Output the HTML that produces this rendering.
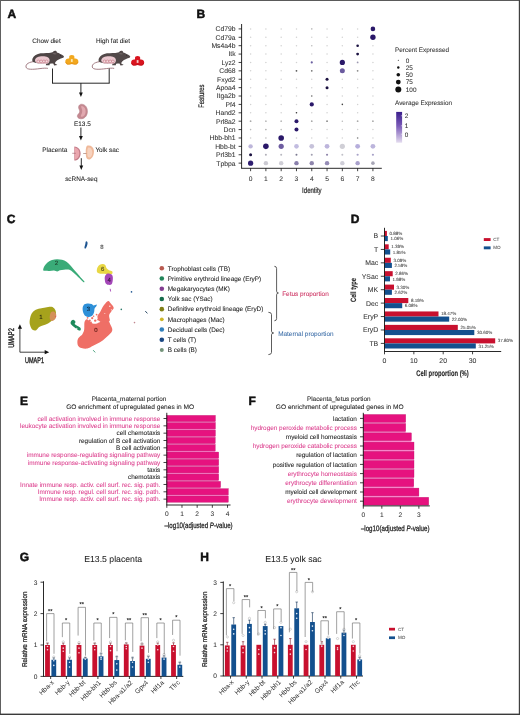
<!DOCTYPE html><html><head><meta charset="utf-8"><style>html,body{margin:0;padding:0;background:#fff;width:520px;height:715px;overflow:hidden}svg{display:block;will-change:transform}text{font-family:"Liberation Sans",sans-serif;text-rendering:geometricPrecision}</style></head><body>
<div id="w"><svg width="520" height="715" viewBox="0 0 520 715">
<rect x="0" y="0" width="520" height="715" fill="#fff"/>
<text x="7.40" y="18.00" font-size="12" text-anchor="start" fill="#111" font-weight="bold" stroke="#111" stroke-width="0.5" >A</text>
<text x="46.50" y="42.60" font-size="6.4" text-anchor="middle" fill="#222" stroke="#222" stroke-width="0.06" >Chow diet</text>
<text x="113.00" y="42.60" font-size="6.4" text-anchor="middle" fill="#222" stroke="#222" stroke-width="0.06" >High fat diet</text>
<g transform="translate(0.00,0)">
<path d="M34.5,61.5 C29,62 25.5,64 26,67 C26.5,70 33,69.5 40,68.6 C43,68.2 46,68 47.5,68.3" fill="none" stroke="#9a7078" stroke-width="0.9" stroke-linecap="round"/>
<path d="M32.2,60.1 C32.3,57.5 34.5,55 38,53.9 C41,53.1 46,53.2 49,53.1 C51,53 52.4,52.6 53.3,51.6 C53.8,50.7 55.3,50.3 56.2,51 C56.8,51.5 56.9,52.2 56.9,52.6 C59,53.2 61.8,54.6 63.4,55.8 C64.2,56.4 64.1,57.3 63.2,57.7 C61.5,58.3 60,58.8 58.8,59.4 C57.2,60.2 56,61 55.3,62.2 L54.9,63.6 C55.8,64.1 56.8,64.4 57.4,64.9 L54.2,65.4 L53.2,63.6 C52,63.6 50.8,63.7 49.8,63.8 L49.5,65.2 L45.8,65.2 L46.2,63.8 C43.5,63.7 40.5,63.5 38,63.2 C35.5,62.9 33.2,62.3 32.5,61.4 Z" fill="#4e4545"/>
<path d="M52.5,53.5 C54,52.8 55.8,53 57,54 C55.5,54.6 53.8,54.6 52.5,53.5 Z" fill="#6d6363"/>
<circle cx="60.5" cy="55.4" r="0.45" fill="#111"/>
<path d="M35.0,60.3 C35.2,57.6 38.5,56.3 42.6,56.3 C46.8,56.3 49.6,57.6 49.6,60.4 C49.6,62.8 47.8,63.9 45,64.0 L40,63.8 C37.2,63.5 35.0,62.6 35.0,60.3 Z" fill="#eac8cf"/>
<circle cx="38.3" cy="61.4" r="1.35" fill="#f4dade" stroke="#b8606e" stroke-width="0.5"/>
<circle cx="41.1" cy="61.4" r="1.35" fill="#f4dade" stroke="#b8606e" stroke-width="0.5"/>
<circle cx="43.9" cy="61.4" r="1.35" fill="#f4dade" stroke="#b8606e" stroke-width="0.5"/>
<circle cx="46.6" cy="61.4" r="1.35" fill="#f4dade" stroke="#b8606e" stroke-width="0.5"/>
</g>
<g transform="translate(66.30,0)">
<path d="M34.5,61.5 C29,62 25.5,64 26,67 C26.5,70 33,69.5 40,68.6 C43,68.2 46,68 47.5,68.3" fill="none" stroke="#9a7078" stroke-width="0.9" stroke-linecap="round"/>
<path d="M32.2,60.1 C32.3,57.5 34.5,55 38,53.9 C41,53.1 46,53.2 49,53.1 C51,53 52.4,52.6 53.3,51.6 C53.8,50.7 55.3,50.3 56.2,51 C56.8,51.5 56.9,52.2 56.9,52.6 C59,53.2 61.8,54.6 63.4,55.8 C64.2,56.4 64.1,57.3 63.2,57.7 C61.5,58.3 60,58.8 58.8,59.4 C57.2,60.2 56,61 55.3,62.2 L54.9,63.6 C55.8,64.1 56.8,64.4 57.4,64.9 L54.2,65.4 L53.2,63.6 C52,63.6 50.8,63.7 49.8,63.8 L49.5,65.2 L45.8,65.2 L46.2,63.8 C43.5,63.7 40.5,63.5 38,63.2 C35.5,62.9 33.2,62.3 32.5,61.4 Z" fill="#524949"/>
<path d="M52.5,53.5 C54,52.8 55.8,53 57,54 C55.5,54.6 53.8,54.6 52.5,53.5 Z" fill="#6d6363"/>
<circle cx="60.5" cy="55.4" r="0.45" fill="#111"/>
<path d="M35.0,60.3 C35.2,57.6 38.5,56.3 42.6,56.3 C46.8,56.3 49.6,57.6 49.6,60.4 C49.6,62.8 47.8,63.9 45,64.0 L40,63.8 C37.2,63.5 35.0,62.6 35.0,60.3 Z" fill="#eac8cf"/>
<circle cx="38.3" cy="61.4" r="1.35" fill="#f4dade" stroke="#b8606e" stroke-width="0.5"/>
<circle cx="41.1" cy="61.4" r="1.35" fill="#f4dade" stroke="#b8606e" stroke-width="0.5"/>
<circle cx="43.9" cy="61.4" r="1.35" fill="#f4dade" stroke="#b8606e" stroke-width="0.5"/>
<circle cx="46.6" cy="61.4" r="1.35" fill="#f4dade" stroke="#b8606e" stroke-width="0.5"/>
</g>
<g transform="translate(65.00,54.60)">
<path d="M0.3,6.9 C0.3,4.8 1.8,3.8 3.6,3.9 C4.2,3.9 4.4,3.4 4.2,2.6 C4.0,1.0 5.2,0.3 6.8,0.3 C8.4,0.3 9.6,1.0 9.4,2.6 C9.2,3.4 9.4,3.9 10.0,3.9 C11.8,3.8 13.4,4.8 13.4,6.9 C13.4,9.0 12.0,10.0 10.2,10.0 C8.8,10.0 7.6,9.5 6.8,9.5 C6.0,9.5 4.8,10.0 3.4,10.0 C1.6,10.0 0.3,9.0 0.3,6.9 Z" fill="#f2a81e"/>
<path d="M0.8,7.4 C1.2,9.0 2.2,9.6 3.4,9.6 C4.8,9.6 5.8,9.0 6.8,9.0 C7.8,9.0 8.8,9.6 10.2,9.6 C11.4,9.6 12.5,9.0 12.9,7.4" fill="none" stroke="#e08a12" stroke-width="0.7"/>
<rect x="5.9" y="4.5" width="1.8" height="2.8" fill="#fce9b4"/>
</g>
<g transform="translate(130.80,55.60)">
<path d="M0.3,6.9 C0.3,4.8 1.8,3.8 3.6,3.9 C4.2,3.9 4.4,3.4 4.2,2.6 C4.0,1.0 5.2,0.3 6.8,0.3 C8.4,0.3 9.6,1.0 9.4,2.6 C9.2,3.4 9.4,3.9 10.0,3.9 C11.8,3.8 13.4,4.8 13.4,6.9 C13.4,9.0 12.0,10.0 10.2,10.0 C8.8,10.0 7.6,9.5 6.8,9.5 C6.0,9.5 4.8,10.0 3.4,10.0 C1.6,10.0 0.3,9.0 0.3,6.9 Z" fill="#d9141f"/>
<path d="M0.8,7.4 C1.2,9.0 2.2,9.6 3.4,9.6 C4.8,9.6 5.8,9.0 6.8,9.0 C7.8,9.0 8.8,9.6 10.2,9.6 C11.4,9.6 12.5,9.0 12.9,7.4" fill="none" stroke="#b50c16" stroke-width="0.7"/>
<rect x="5.9" y="4.5" width="1.8" height="2.8" fill="#f9c9c9"/>
</g>
<line x1="52.50" y1="68.50" x2="52.50" y2="83.20" stroke="#111" stroke-width="0.9" />
<line x1="109.20" y1="68.50" x2="109.20" y2="83.20" stroke="#111" stroke-width="0.9" />
<line x1="52.05" y1="83.20" x2="109.65" y2="83.20" stroke="#111" stroke-width="0.9" />
<line x1="80.90" y1="83.20" x2="80.90" y2="93.50" stroke="#111" stroke-width="0.9" />
<path d="M79.00,92.40 L82.80,92.40 L80.90,97.00 Z" fill="#111"/>
<path d="M81.5,104.2 C85.5,104.3 87.8,108 87.4,112.2 C87,116.5 84,119 80.6,118.8 C78,118.6 76.9,116.8 77.5,115.2 C78.2,113.6 79.6,113.3 79.7,111.5 C79.8,109.8 78.4,109 78.6,107 C78.8,105.2 80,104.2 81.5,104.2 Z" fill="#c48890" stroke="#b07680" stroke-width="0.5"/>
<path d="M81.8,106 C84.5,106.5 85.8,109 85.6,112 C85.4,115 83.5,117 81.2,116.8 C80.4,116.7 80.8,115.5 81.6,114 C82.3,112.6 82.5,110.5 81.8,108.8 C81.2,107.4 80.8,106 81.8,106 Z" fill="#e2a9b0"/>
<text x="82.40" y="126.00" font-size="6.4" text-anchor="middle" fill="#222" stroke="#222" stroke-width="0.06" >E13.5</text>
<line x1="80.90" y1="127.50" x2="80.90" y2="137.10" stroke="#111" stroke-width="0.9" />
<path d="M79.00,136.00 L82.80,136.00 L80.90,140.60 Z" fill="#111"/>
<text x="54.80" y="151.70" font-size="6.4" text-anchor="middle" fill="#222" stroke="#222" stroke-width="0.06" >Placenta</text>
<path d="M74.3,146.4 C78.5,146.6 80.6,150 80.6,153.5 C80.6,157 78.5,160.4 74.3,160.6 Z" fill="#c27c88"/>
<path d="M74.6,147.6 C77.8,148 79.3,150.6 79.3,153.5 C79.3,156.4 77.8,159 74.6,159.4 Z" fill="#eaa6ae"/>
<line x1="72.20" y1="153.30" x2="75.80" y2="153.30" stroke="#9a5a66" stroke-width="0.6" />
<path d="M87.5,145.6 C91,145 93.6,147.2 93.9,150.5 C94.2,154 93,157.8 90.2,159.2 C88,160 86,158.5 85.9,155.5 C85.8,152.5 85.5,149 86.2,147.2 C86.5,146.3 87,145.7 87.5,145.6 Z" fill="#efb99a"/>
<path d="M88.3,147.5 C90.6,147.4 92.2,149.5 92.3,152 C92.4,154.8 91.2,157.3 89.5,157.6 C88,157.8 87.3,156 87.3,153.5 C87.3,151 87.2,148.5 88.3,147.5 Z" fill="#f7d2be"/>
<line x1="83.20" y1="153.50" x2="86.40" y2="153.50" stroke="#9a6a5a" stroke-width="0.6" />
<text x="95.40" y="151.70" font-size="6.4" text-anchor="start" fill="#222" stroke="#222" stroke-width="0.06" >Yolk sac</text>
<line x1="81.30" y1="158.20" x2="81.30" y2="166.50" stroke="#111" stroke-width="0.9" />
<path d="M79.40,165.40 L83.20,165.40 L81.30,170.00 Z" fill="#111"/>
<text x="81.30" y="181.40" font-size="6.4" text-anchor="middle" fill="#222" stroke="#222" stroke-width="0.06" >scRNA-seq</text>
<text x="196.60" y="17.80" font-size="12" text-anchor="start" fill="#111" font-weight="bold" stroke="#111" stroke-width="0.5" >B</text>
<line x1="241.60" y1="24.00" x2="241.60" y2="168.30" stroke="#111" stroke-width="0.9" />
<line x1="241.20" y1="168.30" x2="381.80" y2="168.30" stroke="#111" stroke-width="0.9" />
<line x1="238.60" y1="28.90" x2="241.60" y2="28.90" stroke="#111" stroke-width="0.8" />
<text x="235.60" y="31.30" font-size="6.8" text-anchor="end" fill="#333" stroke="#333" stroke-width="0.06" >Cd79b</text>
<line x1="238.60" y1="37.29" x2="241.60" y2="37.29" stroke="#111" stroke-width="0.8" />
<text x="235.60" y="39.69" font-size="6.8" text-anchor="end" fill="#333" stroke="#333" stroke-width="0.06" >Cd79a</text>
<line x1="238.60" y1="45.68" x2="241.60" y2="45.68" stroke="#111" stroke-width="0.8" />
<text x="235.60" y="48.08" font-size="6.8" text-anchor="end" fill="#333" stroke="#333" stroke-width="0.06" >Ms4a4b</text>
<line x1="238.60" y1="54.07" x2="241.60" y2="54.07" stroke="#111" stroke-width="0.8" />
<text x="235.60" y="56.47" font-size="6.8" text-anchor="end" fill="#333" stroke="#333" stroke-width="0.06" >Itk</text>
<line x1="238.60" y1="62.46" x2="241.60" y2="62.46" stroke="#111" stroke-width="0.8" />
<text x="235.60" y="64.86" font-size="6.8" text-anchor="end" fill="#333" stroke="#333" stroke-width="0.06" >Lyz2</text>
<line x1="238.60" y1="70.85" x2="241.60" y2="70.85" stroke="#111" stroke-width="0.8" />
<text x="235.60" y="73.25" font-size="6.8" text-anchor="end" fill="#333" stroke="#333" stroke-width="0.06" >Cd68</text>
<line x1="238.60" y1="79.24" x2="241.60" y2="79.24" stroke="#111" stroke-width="0.8" />
<text x="235.60" y="81.64" font-size="6.8" text-anchor="end" fill="#333" stroke="#333" stroke-width="0.06" >Fxyd2</text>
<line x1="238.60" y1="87.63" x2="241.60" y2="87.63" stroke="#111" stroke-width="0.8" />
<text x="235.60" y="90.03" font-size="6.8" text-anchor="end" fill="#333" stroke="#333" stroke-width="0.06" >Apoa4</text>
<line x1="238.60" y1="96.02" x2="241.60" y2="96.02" stroke="#111" stroke-width="0.8" />
<text x="235.60" y="98.42" font-size="6.8" text-anchor="end" fill="#333" stroke="#333" stroke-width="0.06" >Itga2b</text>
<line x1="238.60" y1="104.41" x2="241.60" y2="104.41" stroke="#111" stroke-width="0.8" />
<text x="235.60" y="106.81" font-size="6.8" text-anchor="end" fill="#333" stroke="#333" stroke-width="0.06" >Pf4</text>
<line x1="238.60" y1="112.80" x2="241.60" y2="112.80" stroke="#111" stroke-width="0.8" />
<text x="235.60" y="115.20" font-size="6.8" text-anchor="end" fill="#333" stroke="#333" stroke-width="0.06" >Hand2</text>
<line x1="238.60" y1="121.19" x2="241.60" y2="121.19" stroke="#111" stroke-width="0.8" />
<text x="235.60" y="123.59" font-size="6.8" text-anchor="end" fill="#333" stroke="#333" stroke-width="0.06" >Prl8a2</text>
<line x1="238.60" y1="129.58" x2="241.60" y2="129.58" stroke="#111" stroke-width="0.8" />
<text x="235.60" y="131.98" font-size="6.8" text-anchor="end" fill="#333" stroke="#333" stroke-width="0.06" >Dcn</text>
<line x1="238.60" y1="137.97" x2="241.60" y2="137.97" stroke="#111" stroke-width="0.8" />
<text x="235.60" y="140.37" font-size="6.8" text-anchor="end" fill="#333" stroke="#333" stroke-width="0.06" >Hbb-bh1</text>
<line x1="238.60" y1="146.36" x2="241.60" y2="146.36" stroke="#111" stroke-width="0.8" />
<text x="235.60" y="148.76" font-size="6.8" text-anchor="end" fill="#333" stroke="#333" stroke-width="0.06" >Hbb-bt</text>
<line x1="238.60" y1="154.75" x2="241.60" y2="154.75" stroke="#111" stroke-width="0.8" />
<text x="235.60" y="157.15" font-size="6.8" text-anchor="end" fill="#333" stroke="#333" stroke-width="0.06" >Prl3b1</text>
<line x1="238.60" y1="163.14" x2="241.60" y2="163.14" stroke="#111" stroke-width="0.8" />
<text x="235.60" y="165.54" font-size="6.8" text-anchor="end" fill="#333" stroke="#333" stroke-width="0.06" >Tpbpa</text>
<line x1="250.60" y1="168.30" x2="250.60" y2="171.20" stroke="#111" stroke-width="0.8" />
<text x="250.60" y="181.20" font-size="6.7" text-anchor="middle" fill="#333" stroke="#333" stroke-width="0.06" >0</text>
<line x1="265.89" y1="168.30" x2="265.89" y2="171.20" stroke="#111" stroke-width="0.8" />
<text x="265.89" y="181.20" font-size="6.7" text-anchor="middle" fill="#333" stroke="#333" stroke-width="0.06" >1</text>
<line x1="281.18" y1="168.30" x2="281.18" y2="171.20" stroke="#111" stroke-width="0.8" />
<text x="281.18" y="181.20" font-size="6.7" text-anchor="middle" fill="#333" stroke="#333" stroke-width="0.06" >2</text>
<line x1="296.47" y1="168.30" x2="296.47" y2="171.20" stroke="#111" stroke-width="0.8" />
<text x="296.47" y="181.20" font-size="6.7" text-anchor="middle" fill="#333" stroke="#333" stroke-width="0.06" >3</text>
<line x1="311.76" y1="168.30" x2="311.76" y2="171.20" stroke="#111" stroke-width="0.8" />
<text x="311.76" y="181.20" font-size="6.7" text-anchor="middle" fill="#333" stroke="#333" stroke-width="0.06" >4</text>
<line x1="327.05" y1="168.30" x2="327.05" y2="171.20" stroke="#111" stroke-width="0.8" />
<text x="327.05" y="181.20" font-size="6.7" text-anchor="middle" fill="#333" stroke="#333" stroke-width="0.06" >5</text>
<line x1="342.34" y1="168.30" x2="342.34" y2="171.20" stroke="#111" stroke-width="0.8" />
<text x="342.34" y="181.20" font-size="6.7" text-anchor="middle" fill="#333" stroke="#333" stroke-width="0.06" >6</text>
<line x1="357.63" y1="168.30" x2="357.63" y2="171.20" stroke="#111" stroke-width="0.8" />
<text x="357.63" y="181.20" font-size="6.7" text-anchor="middle" fill="#333" stroke="#333" stroke-width="0.06" >7</text>
<line x1="372.92" y1="168.30" x2="372.92" y2="171.20" stroke="#111" stroke-width="0.8" />
<text x="372.92" y="181.20" font-size="6.7" text-anchor="middle" fill="#333" stroke="#333" stroke-width="0.06" >8</text>
<text x="311.85" y="192.90" font-size="8.0" text-anchor="middle" fill="#222" stroke="#222" stroke-width="0.2" textLength="19.5" lengthAdjust="spacingAndGlyphs">Identity</text>
<text x="203.60" y="96.20" font-size="8.0" text-anchor="middle" fill="#222" stroke="#222" stroke-width="0.2" textLength="23" lengthAdjust="spacingAndGlyphs" transform="rotate(-90 203.60 96.20)">Features</text>
<circle cx="250.60" cy="28.90" r="0.75" fill="#d2d2d2"/>
<circle cx="265.89" cy="28.90" r="0.75" fill="#d2d2d2"/>
<circle cx="281.18" cy="28.90" r="0.75" fill="#d2d2d2"/>
<circle cx="296.47" cy="28.90" r="0.75" fill="#d2d2d2"/>
<circle cx="311.76" cy="28.90" r="0.80" fill="#bbb"/>
<circle cx="327.05" cy="28.90" r="0.75" fill="#d2d2d2"/>
<circle cx="342.34" cy="28.90" r="0.75" fill="#d2d2d2"/>
<circle cx="357.63" cy="28.90" r="0.75" fill="#d2d2d2"/>
<circle cx="372.92" cy="28.90" r="2.30" fill="#2a1869"/>
<circle cx="250.60" cy="37.29" r="0.75" fill="#d2d2d2"/>
<circle cx="265.89" cy="37.29" r="0.75" fill="#d2d2d2"/>
<circle cx="281.18" cy="37.29" r="0.75" fill="#d2d2d2"/>
<circle cx="296.47" cy="37.29" r="0.75" fill="#d2d2d2"/>
<circle cx="311.76" cy="37.29" r="0.75" fill="#d2d2d2"/>
<circle cx="327.05" cy="37.29" r="0.75" fill="#d2d2d2"/>
<circle cx="342.34" cy="37.29" r="0.75" fill="#d2d2d2"/>
<circle cx="357.63" cy="37.29" r="0.75" fill="#d2d2d2"/>
<circle cx="372.92" cy="37.29" r="2.70" fill="#2a1869"/>
<circle cx="250.60" cy="45.68" r="0.75" fill="#d2d2d2"/>
<circle cx="265.89" cy="45.68" r="0.75" fill="#d2d2d2"/>
<circle cx="281.18" cy="45.68" r="0.75" fill="#d2d2d2"/>
<circle cx="296.47" cy="45.68" r="0.75" fill="#d2d2d2"/>
<circle cx="311.76" cy="45.68" r="0.80" fill="#bbb"/>
<circle cx="327.05" cy="45.68" r="0.75" fill="#d2d2d2"/>
<circle cx="342.34" cy="45.68" r="0.75" fill="#d2d2d2"/>
<circle cx="357.63" cy="45.68" r="1.30" fill="#1b1140"/>
<circle cx="372.92" cy="45.68" r="0.75" fill="#d2d2d2"/>
<circle cx="250.60" cy="54.07" r="0.75" fill="#d2d2d2"/>
<circle cx="265.89" cy="54.07" r="0.75" fill="#d2d2d2"/>
<circle cx="281.18" cy="54.07" r="0.75" fill="#d2d2d2"/>
<circle cx="296.47" cy="54.07" r="0.75" fill="#d2d2d2"/>
<circle cx="311.76" cy="54.07" r="0.75" fill="#d2d2d2"/>
<circle cx="327.05" cy="54.07" r="0.75" fill="#d2d2d2"/>
<circle cx="342.34" cy="54.07" r="0.75" fill="#d2d2d2"/>
<circle cx="357.63" cy="54.07" r="1.40" fill="#1b1140"/>
<circle cx="372.92" cy="54.07" r="0.75" fill="#d2d2d2"/>
<circle cx="250.60" cy="62.46" r="0.75" fill="#d2d2d2"/>
<circle cx="265.89" cy="62.46" r="0.75" fill="#d2d2d2"/>
<circle cx="281.18" cy="62.46" r="0.75" fill="#d2d2d2"/>
<circle cx="296.47" cy="62.46" r="0.75" fill="#d2d2d2"/>
<circle cx="311.76" cy="62.46" r="1.10" fill="#6a5fa0"/>
<circle cx="327.05" cy="62.46" r="0.75" fill="#d2d2d2"/>
<circle cx="342.34" cy="62.46" r="2.60" fill="#2a1869"/>
<circle cx="357.63" cy="62.46" r="0.90" fill="#9c98b0"/>
<circle cx="372.92" cy="62.46" r="0.75" fill="#d2d2d2"/>
<circle cx="250.60" cy="70.85" r="0.75" fill="#d2d2d2"/>
<circle cx="265.89" cy="70.85" r="0.75" fill="#d2d2d2"/>
<circle cx="281.18" cy="70.85" r="0.75" fill="#d2d2d2"/>
<circle cx="296.47" cy="70.85" r="0.90" fill="#555"/>
<circle cx="311.76" cy="70.85" r="0.90" fill="#777"/>
<circle cx="327.05" cy="70.85" r="0.75" fill="#d2d2d2"/>
<circle cx="342.34" cy="70.85" r="2.50" fill="#6b5b9f"/>
<circle cx="357.63" cy="70.85" r="0.90" fill="#888"/>
<circle cx="372.92" cy="70.85" r="0.75" fill="#d2d2d2"/>
<circle cx="250.60" cy="79.24" r="0.75" fill="#d2d2d2"/>
<circle cx="265.89" cy="79.24" r="0.75" fill="#d2d2d2"/>
<circle cx="281.18" cy="79.24" r="0.75" fill="#d2d2d2"/>
<circle cx="296.47" cy="79.24" r="0.75" fill="#d2d2d2"/>
<circle cx="311.76" cy="79.24" r="0.75" fill="#d2d2d2"/>
<circle cx="327.05" cy="79.24" r="1.50" fill="#1b1140"/>
<circle cx="342.34" cy="79.24" r="0.75" fill="#d2d2d2"/>
<circle cx="357.63" cy="79.24" r="0.75" fill="#d2d2d2"/>
<circle cx="372.92" cy="79.24" r="0.75" fill="#d2d2d2"/>
<circle cx="250.60" cy="87.63" r="0.75" fill="#d2d2d2"/>
<circle cx="265.89" cy="87.63" r="0.75" fill="#d2d2d2"/>
<circle cx="281.18" cy="87.63" r="0.75" fill="#d2d2d2"/>
<circle cx="296.47" cy="87.63" r="0.75" fill="#d2d2d2"/>
<circle cx="311.76" cy="87.63" r="0.75" fill="#d2d2d2"/>
<circle cx="327.05" cy="87.63" r="1.50" fill="#1b1140"/>
<circle cx="342.34" cy="87.63" r="0.75" fill="#d2d2d2"/>
<circle cx="357.63" cy="87.63" r="0.75" fill="#d2d2d2"/>
<circle cx="372.92" cy="87.63" r="0.75" fill="#d2d2d2"/>
<circle cx="250.60" cy="96.02" r="0.75" fill="#d2d2d2"/>
<circle cx="265.89" cy="96.02" r="0.75" fill="#d2d2d2"/>
<circle cx="281.18" cy="96.02" r="0.75" fill="#d2d2d2"/>
<circle cx="296.47" cy="96.02" r="0.75" fill="#d2d2d2"/>
<circle cx="311.76" cy="96.02" r="0.80" fill="#666"/>
<circle cx="327.05" cy="96.02" r="0.75" fill="#d2d2d2"/>
<circle cx="342.34" cy="96.02" r="0.75" fill="#d2d2d2"/>
<circle cx="357.63" cy="96.02" r="0.75" fill="#d2d2d2"/>
<circle cx="372.92" cy="96.02" r="0.75" fill="#d2d2d2"/>
<circle cx="250.60" cy="104.41" r="0.75" fill="#d2d2d2"/>
<circle cx="265.89" cy="104.41" r="0.75" fill="#d2d2d2"/>
<circle cx="281.18" cy="104.41" r="0.75" fill="#d2d2d2"/>
<circle cx="296.47" cy="104.41" r="0.75" fill="#d2d2d2"/>
<circle cx="311.76" cy="104.41" r="2.10" fill="#2a1869"/>
<circle cx="327.05" cy="104.41" r="0.75" fill="#d2d2d2"/>
<circle cx="342.34" cy="104.41" r="0.80" fill="#444"/>
<circle cx="357.63" cy="104.41" r="0.75" fill="#d2d2d2"/>
<circle cx="372.92" cy="104.41" r="0.75" fill="#d2d2d2"/>
<circle cx="250.60" cy="112.80" r="0.75" fill="#d2d2d2"/>
<circle cx="265.89" cy="112.80" r="0.75" fill="#d2d2d2"/>
<circle cx="281.18" cy="112.80" r="0.75" fill="#d2d2d2"/>
<circle cx="296.47" cy="112.80" r="0.80" fill="#333"/>
<circle cx="311.76" cy="112.80" r="0.75" fill="#d2d2d2"/>
<circle cx="327.05" cy="112.80" r="0.75" fill="#d2d2d2"/>
<circle cx="342.34" cy="112.80" r="0.75" fill="#d2d2d2"/>
<circle cx="357.63" cy="112.80" r="0.75" fill="#d2d2d2"/>
<circle cx="372.92" cy="112.80" r="0.75" fill="#d2d2d2"/>
<circle cx="250.60" cy="121.19" r="0.90" fill="#aaa"/>
<circle cx="265.89" cy="121.19" r="0.90" fill="#bbb"/>
<circle cx="281.18" cy="121.19" r="0.90" fill="#bbb"/>
<circle cx="296.47" cy="121.19" r="2.00" fill="#2a1869"/>
<circle cx="311.76" cy="121.19" r="0.90" fill="#aaa"/>
<circle cx="327.05" cy="121.19" r="0.90" fill="#888"/>
<circle cx="342.34" cy="121.19" r="0.80" fill="#bbb"/>
<circle cx="357.63" cy="121.19" r="0.90" fill="#aaa"/>
<circle cx="372.92" cy="121.19" r="0.90" fill="#aaa"/>
<circle cx="250.60" cy="129.58" r="0.80" fill="#bbb"/>
<circle cx="265.89" cy="129.58" r="0.80" fill="#aaa"/>
<circle cx="281.18" cy="129.58" r="0.80" fill="#bbb"/>
<circle cx="296.47" cy="129.58" r="2.00" fill="#2a1869"/>
<circle cx="311.76" cy="129.58" r="0.75" fill="#d2d2d2"/>
<circle cx="327.05" cy="129.58" r="0.75" fill="#d2d2d2"/>
<circle cx="342.34" cy="129.58" r="0.75" fill="#d2d2d2"/>
<circle cx="357.63" cy="129.58" r="0.75" fill="#d2d2d2"/>
<circle cx="372.92" cy="129.58" r="0.75" fill="#d2d2d2"/>
<circle cx="250.60" cy="137.97" r="0.80" fill="#ccc"/>
<circle cx="265.89" cy="137.97" r="0.80" fill="#bbb"/>
<circle cx="281.18" cy="137.97" r="2.80" fill="#2a1869"/>
<circle cx="296.47" cy="137.97" r="0.80" fill="#ccc"/>
<circle cx="311.76" cy="137.97" r="0.75" fill="#d2d2d2"/>
<circle cx="327.05" cy="137.97" r="0.75" fill="#d2d2d2"/>
<circle cx="342.34" cy="137.97" r="0.75" fill="#d2d2d2"/>
<circle cx="357.63" cy="137.97" r="0.80" fill="#777"/>
<circle cx="372.92" cy="137.97" r="0.75" fill="#d2d2d2"/>
<circle cx="250.60" cy="146.36" r="2.20" fill="#bdb6da"/>
<circle cx="265.89" cy="146.36" r="2.80" fill="#2a1869"/>
<circle cx="281.18" cy="146.36" r="2.60" fill="#6e5da1"/>
<circle cx="296.47" cy="146.36" r="2.30" fill="#c2bce0"/>
<circle cx="311.76" cy="146.36" r="2.40" fill="#c6c2da"/>
<circle cx="327.05" cy="146.36" r="2.40" fill="#bdb5dc"/>
<circle cx="342.34" cy="146.36" r="2.60" fill="#d0cfd6"/>
<circle cx="357.63" cy="146.36" r="2.40" fill="#b6aedc"/>
<circle cx="372.92" cy="146.36" r="2.40" fill="#bcb5dc"/>
<circle cx="250.60" cy="154.75" r="1.50" fill="#1b1140"/>
<circle cx="265.89" cy="154.75" r="1.00" fill="#b0afb8"/>
<circle cx="281.18" cy="154.75" r="1.00" fill="#b8b8c0"/>
<circle cx="296.47" cy="154.75" r="1.00" fill="#7a7890"/>
<circle cx="311.76" cy="154.75" r="1.00" fill="#a09eb0"/>
<circle cx="327.05" cy="154.75" r="1.10" fill="#8e84aa"/>
<circle cx="342.34" cy="154.75" r="1.00" fill="#c0c0c8"/>
<circle cx="357.63" cy="154.75" r="1.10" fill="#a8a2c8"/>
<circle cx="372.92" cy="154.75" r="1.10" fill="#a8a2c8"/>
<circle cx="250.60" cy="163.14" r="2.60" fill="#2f1e70"/>
<circle cx="265.89" cy="163.14" r="2.20" fill="#cbcad2"/>
<circle cx="281.18" cy="163.14" r="2.20" fill="#cfced6"/>
<circle cx="296.47" cy="163.14" r="2.20" fill="#8a80ac"/>
<circle cx="311.76" cy="163.14" r="2.20" fill="#8f86ad"/>
<circle cx="327.05" cy="163.14" r="2.20" fill="#958cb6"/>
<circle cx="342.34" cy="163.14" r="2.20" fill="#cfced8"/>
<circle cx="357.63" cy="163.14" r="2.20" fill="#a9a1cc"/>
<circle cx="372.92" cy="163.14" r="1.80" fill="#a8a6b6"/>
<text x="395.00" y="52.00" font-size="6.4" text-anchor="start" fill="#333" stroke="#333" stroke-width="0.06" >Percent Expressed</text>
<circle cx="398.30" cy="60.20" r="0.50" fill="#111"/>
<text x="405.80" y="62.50" font-size="6.4" text-anchor="start" fill="#333" stroke="#333" stroke-width="0.06" >0</text>
<circle cx="398.30" cy="67.50" r="1.20" fill="#111"/>
<text x="405.80" y="69.80" font-size="6.4" text-anchor="start" fill="#333" stroke="#333" stroke-width="0.06" >25</text>
<circle cx="398.30" cy="74.80" r="1.80" fill="#111"/>
<text x="405.80" y="77.10" font-size="6.4" text-anchor="start" fill="#333" stroke="#333" stroke-width="0.06" >50</text>
<circle cx="398.30" cy="82.10" r="2.40" fill="#111"/>
<text x="405.80" y="84.40" font-size="6.4" text-anchor="start" fill="#333" stroke="#333" stroke-width="0.06" >75</text>
<circle cx="398.30" cy="89.40" r="3.00" fill="#111"/>
<text x="405.80" y="91.70" font-size="6.4" text-anchor="start" fill="#333" stroke="#333" stroke-width="0.06" >100</text>
<text x="395.00" y="105.20" font-size="6.4" text-anchor="start" fill="#333" stroke="#333" stroke-width="0.06" >Average Expression</text>
<defs><linearGradient id="cb" x1="0" y1="0" x2="0" y2="1"><stop offset="0" stop-color="#3b1e8c"/><stop offset="0.45" stop-color="#7a5ab8"/><stop offset="1" stop-color="#e4dcef"/></linearGradient></defs>
<rect x="396.2" y="111.9" width="5.9" height="30.8" fill="url(#cb)"/>
<line x1="400.90" y1="115.80" x2="402.10" y2="115.80" stroke="#fff" stroke-width="0.5" />
<text x="404.80" y="118.10" font-size="6.4" text-anchor="start" fill="#333" stroke="#333" stroke-width="0.06" >2</text>
<line x1="400.90" y1="125.80" x2="402.10" y2="125.80" stroke="#fff" stroke-width="0.5" />
<text x="404.80" y="128.10" font-size="6.4" text-anchor="start" fill="#333" stroke="#333" stroke-width="0.06" >1</text>
<line x1="400.90" y1="134.20" x2="402.10" y2="134.20" stroke="#fff" stroke-width="0.5" />
<text x="404.80" y="136.50" font-size="6.4" text-anchor="start" fill="#333" stroke="#333" stroke-width="0.06" >0</text>
<text x="6.80" y="222.80" font-size="12" text-anchor="start" fill="#111" font-weight="bold" stroke="#111" stroke-width="0.5" >C</text>
<path d="M43.20,270.20 C42.95,269.40 43.78,267.28 44.50,266.00 C45.22,264.72 46.25,263.50 47.50,262.50 C48.75,261.50 50.42,260.55 52.00,260.00 C53.58,259.45 55.33,259.23 57.00,259.20 C58.67,259.17 60.42,259.37 62.00,259.80 C63.58,260.23 65.17,260.93 66.50,261.80 C67.83,262.67 68.82,263.75 70.00,265.00 C71.18,266.25 72.40,267.93 73.60,269.30 C74.80,270.67 76.02,271.85 77.20,273.20 C78.38,274.55 79.50,276.03 80.70,277.40 C81.90,278.77 83.98,280.65 84.40,281.40 C84.82,282.15 83.97,282.37 83.20,281.90 C82.43,281.43 80.93,279.72 79.80,278.60 C78.67,277.48 77.53,276.27 76.40,275.20 C75.27,274.13 74.17,273.10 73.00,272.20 C71.83,271.30 70.90,270.22 69.40,269.80 C67.90,269.38 65.57,269.62 64.00,269.70 C62.43,269.78 61.13,270.02 60.00,270.30 C58.87,270.58 58.20,271.38 57.20,271.40 C56.20,271.42 55.28,270.48 54.00,270.40 C52.72,270.32 50.83,270.83 49.50,270.90 C48.17,270.97 47.05,270.92 46.00,270.80 C44.95,270.68 43.45,271.00 43.20,270.20 Z" fill="#3aab78" />
<text x="56.40" y="265.20" font-size="6.0" text-anchor="middle" fill="#1e4a32" stroke="#1e4a32" stroke-width="0.12" >2</text>
<path d="M29.60,321.60 C29.73,319.65 30.37,316.37 31.20,314.50 C32.03,312.63 33.13,311.38 34.60,310.40 C36.07,309.42 38.18,309.07 40.00,308.60 C41.82,308.13 43.58,307.90 45.50,307.60 C47.42,307.30 49.95,306.53 51.50,306.80 C53.05,307.07 54.05,308.13 54.80,309.20 C55.55,310.27 56.03,311.73 56.00,313.20 C55.97,314.67 55.35,316.70 54.60,318.00 C53.85,319.30 52.60,320.10 51.50,321.00 C50.40,321.90 49.33,322.70 48.00,323.40 C46.67,324.10 44.97,324.60 43.50,325.20 C42.03,325.80 40.42,326.17 39.20,327.00 C37.98,327.83 37.30,329.73 36.20,330.20 C35.10,330.67 33.57,330.47 32.60,329.80 C31.63,329.13 30.90,327.57 30.40,326.20 C29.90,324.83 29.47,323.55 29.60,321.60 Z" fill="#a6a21c" />
<path d="M50.60,313.00 C51.27,311.83 52.87,311.33 53.80,311.60 C54.73,311.87 55.93,313.40 56.20,314.60 C56.47,315.80 56.07,317.73 55.40,318.80 C54.73,319.87 53.13,321.03 52.20,321.00 C51.27,320.97 50.07,319.93 49.80,318.60 C49.53,317.27 49.93,314.17 50.60,313.00 Z" fill="#d4915a" />
<circle cx="55.60" cy="316.60" r="0.60" fill="#e05060"/>
<text x="40.80" y="318.50" font-size="6.0" text-anchor="middle" fill="#2a2a10" stroke="#2a2a10" stroke-width="0.12" >1</text>
<path d="M84.50,322.00 C84.93,320.27 86.05,319.43 86.80,319.20 C87.55,318.97 88.13,319.93 89.00,320.60 C89.87,321.27 90.83,322.67 92.00,323.20 C93.17,323.73 94.83,323.90 96.00,323.80 C97.17,323.70 98.08,323.03 99.00,322.60 C99.92,322.17 100.58,321.50 101.50,321.20 C102.42,320.90 103.32,320.80 104.50,320.80 C105.68,320.80 107.58,320.50 108.60,321.20 C109.62,321.90 109.98,323.63 110.60,325.00 C111.22,326.37 112.27,328.07 112.30,329.40 C112.33,330.73 111.88,331.62 110.80,333.00 C109.72,334.38 107.60,336.15 105.80,337.70 C104.00,339.25 102.12,340.95 100.00,342.30 C97.88,343.65 95.22,344.75 93.10,345.80 C90.98,346.85 89.23,348.22 87.30,348.60 C85.37,348.98 83.03,348.57 81.50,348.10 C79.97,347.63 78.78,346.95 78.10,345.80 C77.42,344.65 77.30,342.55 77.40,341.20 C77.50,339.85 77.87,338.87 78.70,337.70 C79.53,336.53 81.48,335.55 82.40,334.20 C83.32,332.85 83.85,331.63 84.20,329.60 C84.55,327.57 84.07,323.73 84.50,322.00 Z" fill="#ef6f66" />
<path d="M108.20,300.90 C109.33,300.67 109.88,302.45 110.80,303.60 C111.72,304.75 113.62,306.48 113.70,307.80 C113.78,309.12 112.07,310.23 111.30,311.50 C110.53,312.77 109.35,313.88 109.10,315.40 C108.85,316.92 110.15,319.43 109.80,320.60 C109.45,321.77 108.22,322.13 107.00,322.40 C105.78,322.67 103.80,322.43 102.50,322.20 C101.20,321.97 100.05,321.97 99.20,321.00 C98.35,320.03 97.32,317.77 97.40,316.40 C97.48,315.03 99.03,313.97 99.70,312.80 C100.37,311.63 100.68,310.70 101.40,309.40 C102.12,308.10 102.87,306.42 104.00,305.00 C105.13,303.58 107.07,301.13 108.20,300.90 Z" fill="#ef6f66" />
<circle cx="92.20" cy="318.20" r="1.10" fill="#ef6f66"/>
<circle cx="95.20" cy="320.60" r="1.20" fill="#ef6f66"/>
<circle cx="89.80" cy="320.50" r="1.00" fill="#ef6f66"/>
<circle cx="96.60" cy="314.60" r="0.90" fill="#ef6f66"/>
<circle cx="93.60" cy="316.20" r="0.80" fill="#ef6f66"/>
<circle cx="98.20" cy="319.40" r="1.00" fill="#ef6f66"/>
<circle cx="87.60" cy="317.80" r="0.90" fill="#ef6f66"/>
<circle cx="91.00" cy="322.50" r="0.90" fill="#ef6f66"/>
<circle cx="109.80" cy="306.20" r="0.80" fill="#fde4e0"/>
<circle cx="111.40" cy="309.80" r="0.60" fill="#fde4e0"/>
<circle cx="104.80" cy="313.50" r="0.50" fill="#fde4e0"/>
<path d="M82.70,307.60 C82.92,306.23 83.62,305.00 84.50,304.30 C85.38,303.60 86.83,303.45 88.00,303.40 C89.17,303.35 90.57,303.67 91.50,304.00 C92.43,304.33 92.75,305.33 93.60,305.40 C94.45,305.47 96.15,304.25 96.60,304.40 C97.05,304.55 96.63,305.63 96.30,306.30 C95.97,306.97 94.97,307.45 94.60,308.40 C94.23,309.35 94.47,310.80 94.10,312.00 C93.73,313.20 93.25,314.78 92.40,315.60 C91.55,316.42 90.15,316.82 89.00,316.90 C87.85,316.98 86.47,316.83 85.50,316.10 C84.53,315.37 83.67,313.92 83.20,312.50 C82.73,311.08 82.48,308.97 82.70,307.60 Z" fill="#2e90d8" />
<text x="88.40" y="311.00" font-size="6.0" text-anchor="middle" fill="#10283f" stroke="#10283f" stroke-width="0.12" >3</text>
<text x="95.80" y="331.80" font-size="6.0" text-anchor="middle" fill="#5a1a12" stroke="#5a1a12" stroke-width="0.12" >0</text>
<path d="M70.60,322.40 C70.70,321.77 71.10,320.82 71.60,320.40 C72.10,319.98 73.00,319.80 73.60,319.90 C74.20,320.00 74.92,320.52 75.20,321.00 C75.48,321.48 75.40,322.30 75.30,322.80 C75.20,323.30 74.38,323.57 74.60,324.00 C74.82,324.43 75.93,324.97 76.60,325.40 C77.27,325.83 77.92,326.10 78.60,326.60 C79.28,327.10 80.43,327.77 80.70,328.40 C80.97,329.03 80.65,330.15 80.20,330.40 C79.75,330.65 78.70,330.20 78.00,329.90 C77.30,329.60 76.67,329.08 76.00,328.60 C75.33,328.12 74.63,327.53 74.00,327.00 C73.37,326.47 72.70,325.87 72.20,325.40 C71.70,324.93 71.27,324.70 71.00,324.20 C70.73,323.70 70.50,323.03 70.60,322.40 Z" fill="#1d8a5c" />
<circle cx="76.80" cy="328.30" r="0.60" fill="#ffffff"/>
<line x1="93.20" y1="350.20" x2="95.20" y2="352.40" stroke="#1d8a5c" stroke-width="0.8" />
<path d="M96.80,270.80 C96.80,269.87 97.10,268.20 97.60,267.20 C98.10,266.20 98.93,265.33 99.80,264.80 C100.67,264.27 101.87,263.93 102.80,264.00 C103.73,264.07 104.77,264.50 105.40,265.20 C106.03,265.90 106.00,267.37 106.60,268.20 C107.20,269.03 108.08,269.70 109.00,270.20 C109.92,270.70 111.57,270.60 112.10,271.20 C112.63,271.80 112.82,273.28 112.20,273.80 C111.58,274.32 109.73,274.30 108.40,274.30 C107.07,274.30 105.57,273.88 104.20,273.80 C102.83,273.72 101.30,273.97 100.20,273.80 C99.10,273.63 98.17,273.30 97.60,272.80 C97.03,272.30 96.80,271.73 96.80,270.80 Z" fill="#e8d744" />
<text x="102.60" y="271.40" font-size="6.0" text-anchor="middle" fill="#4a4218" stroke="#4a4218" stroke-width="0.12" >6</text>
<path d="M104.90,276.60 C105.20,275.67 105.82,274.48 106.60,274.00 C107.38,273.52 108.63,273.47 109.60,273.70 C110.57,273.93 111.87,274.38 112.40,275.40 C112.93,276.42 112.93,278.32 112.80,279.80 C112.67,281.28 112.37,283.47 111.60,284.30 C110.83,285.13 109.20,284.98 108.20,284.80 C107.20,284.62 106.17,284.07 105.60,283.20 C105.03,282.33 104.92,280.70 104.80,279.60 C104.68,278.50 104.60,277.53 104.90,276.60 Z" fill="#a446b8" />
<text x="109.20" y="282.40" font-size="6.0" text-anchor="middle" fill="#301236" stroke="#301236" stroke-width="0.12" >4</text>
<line x1="110.20" y1="288.80" x2="110.60" y2="291.50" stroke="#a545b5" stroke-width="0.9" />
<path d="M86.4,241.2 C87.8,241.2 87.9,243.5 87.1,245.5 C86.5,247.2 85.6,249 84.8,248.6 C84,248.2 84.7,246 85.2,244.5 C85.6,243 85.4,241.2 86.4,241.2 Z" fill="#1e5591"/>
<text x="101.90" y="249.00" font-size="6.0" text-anchor="middle" fill="#444" stroke="#444" stroke-width="0.12" >8</text>
<circle cx="131.50" cy="291.90" r="0.80" fill="#1e5591"/>
<circle cx="121.30" cy="309.40" r="0.80" fill="#2a7a6a"/>
<circle cx="134.50" cy="322.60" r="0.80" fill="#c08890"/>
<line x1="145.30" y1="311.10" x2="147.40" y2="313.40" stroke="#2a4a66" stroke-width="1.0" />
<line x1="19.90" y1="352.20" x2="19.90" y2="328.00" stroke="#111" stroke-width="0.8" />
<path d="M17.8,328.8 L22.0,328.8 L19.9,324.3 Z" fill="#111"/>
<line x1="19.90" y1="352.20" x2="45.50" y2="352.20" stroke="#111" stroke-width="0.8" />
<path d="M44.7,350.1 L44.7,354.3 L49.2,352.2 Z" fill="#111"/>
<text x="14.40" y="338.00" font-size="8.2" text-anchor="middle" fill="#1a1a1a" stroke="#1a1a1a" stroke-width="0.35" textLength="19.7" lengthAdjust="spacingAndGlyphs" transform="rotate(-90 14.40 338.00)">UMAP2</text>
<text x="34.50" y="362.90" font-size="8.2" text-anchor="middle" fill="#1a1a1a" stroke="#1a1a1a" stroke-width="0.35" textLength="18.9" lengthAdjust="spacingAndGlyphs">UMAP1</text>
<circle cx="161.80" cy="268.30" r="2.30" fill="#b8594f"/>
<text x="167.80" y="270.60" font-size="6.4" text-anchor="start" fill="#222" stroke="#222" stroke-width="0.06" >Trophoblast cells (TB)</text>
<circle cx="161.80" cy="278.51" r="2.30" fill="#22855a"/>
<text x="167.80" y="280.81" font-size="6.4" text-anchor="start" fill="#222" stroke="#222" stroke-width="0.06" >Primitive erythroid lineage (EryP)</text>
<circle cx="161.80" cy="288.72" r="2.30" fill="#823c90"/>
<text x="167.80" y="291.02" font-size="6.4" text-anchor="start" fill="#222" stroke="#222" stroke-width="0.06" >Megakaryocytes (MK)</text>
<circle cx="161.80" cy="298.93" r="2.30" fill="#166c4b"/>
<text x="167.80" y="301.23" font-size="6.4" text-anchor="start" fill="#222" stroke="#222" stroke-width="0.06" >Yolk sac (YSac)</text>
<circle cx="161.80" cy="309.14" r="2.30" fill="#807f16"/>
<text x="167.80" y="311.44" font-size="6.4" text-anchor="start" fill="#222" stroke="#222" stroke-width="0.06" >Definitive erythroid lineage (EryD)</text>
<circle cx="161.80" cy="319.35" r="1.90" fill="#cdb628"/>
<text x="167.80" y="321.65" font-size="6.4" text-anchor="start" fill="#222" stroke="#222" stroke-width="0.06" >Macrophages (Mac)</text>
<circle cx="161.80" cy="329.56" r="2.30" fill="#317fba"/>
<text x="167.80" y="331.86" font-size="6.4" text-anchor="start" fill="#222" stroke="#222" stroke-width="0.06" >Decidual cells (Dec)</text>
<circle cx="161.80" cy="339.77" r="2.30" fill="#1a4782"/>
<text x="167.80" y="342.07" font-size="6.4" text-anchor="start" fill="#222" stroke="#222" stroke-width="0.06" >T cells (T)</text>
<circle cx="161.80" cy="349.98" r="2.00" fill="#74947a"/>
<text x="167.80" y="352.28" font-size="6.4" text-anchor="start" fill="#222" stroke="#222" stroke-width="0.06" >B cells (B)</text>
<path d="M274.4,266.3 Q276.6,266.3 276.6,268.5 L276.6,291.2 Q276.6,293.0 278.4,293.0 Q276.6,293.0 276.6,294.8 L276.6,318.6 Q276.6,320.8 274.4,320.8" fill="none" stroke="#333" stroke-width="0.8"/>
<path d="M268.4,312.3 Q271.5,312.3 271.5,314.5 L271.5,331.2 Q271.5,333.0 273.6,333.0 Q271.5,333.0 271.5,334.8 L271.5,352.4 Q271.5,354.6 268.4,354.6" fill="none" stroke="#333" stroke-width="0.8"/>
<text x="282.20" y="295.80" font-size="6.4" text-anchor="start" fill="#cc2f5f" stroke="#cc2f5f" stroke-width="0.06" >Fetus proportion</text>
<text x="278.20" y="335.80" font-size="6.4" text-anchor="start" fill="#3d6ea8" stroke="#3d6ea8" stroke-width="0.06" >Maternal proportion</text>
<text x="350.70" y="222.90" font-size="12" text-anchor="start" fill="#111" font-weight="bold" stroke="#111" stroke-width="0.5" >D</text>
<rect x="384.50" y="230.90" width="2.40" height="5.10" fill="#c8102e"/>
<rect x="384.50" y="236.00" width="3.30" height="5.10" fill="#13508e"/>
<line x1="380.80" y1="236.00" x2="384.50" y2="236.00" stroke="#111" stroke-width="0.8" />
<text x="378.20" y="238.40" font-size="6.9" text-anchor="end" fill="#333" stroke="#333" stroke-width="0.06" >B</text>
<text x="389.50" y="234.80" font-size="4.5" text-anchor="start" fill="#444" stroke="#444" stroke-width="0.06" >0.88%</text>
<text x="390.40" y="240.30" font-size="4.5" text-anchor="start" fill="#444" stroke="#444" stroke-width="0.06" >1.06%</text>
<rect x="384.50" y="244.33" width="4.20" height="5.10" fill="#c8102e"/>
<rect x="384.50" y="249.43" width="5.70" height="5.10" fill="#13508e"/>
<line x1="380.80" y1="249.43" x2="384.50" y2="249.43" stroke="#111" stroke-width="0.8" />
<text x="378.20" y="251.83" font-size="6.9" text-anchor="end" fill="#333" stroke="#333" stroke-width="0.06" >T</text>
<text x="391.30" y="248.23" font-size="4.5" text-anchor="start" fill="#444" stroke="#444" stroke-width="0.06" >1.39%</text>
<text x="392.80" y="253.73" font-size="4.5" text-anchor="start" fill="#444" stroke="#444" stroke-width="0.06" >1.85%</text>
<rect x="384.50" y="257.75" width="6.30" height="5.10" fill="#c8102e"/>
<rect x="384.50" y="262.85" width="7.40" height="5.10" fill="#13508e"/>
<line x1="380.80" y1="262.85" x2="384.50" y2="262.85" stroke="#111" stroke-width="0.8" />
<text x="378.20" y="265.25" font-size="6.9" text-anchor="end" fill="#333" stroke="#333" stroke-width="0.06" >Mac</text>
<text x="393.40" y="261.65" font-size="4.5" text-anchor="start" fill="#444" stroke="#444" stroke-width="0.06" >3.09%</text>
<text x="394.50" y="267.15" font-size="4.5" text-anchor="start" fill="#444" stroke="#444" stroke-width="0.06" >2.59%</text>
<rect x="384.50" y="271.17" width="8.20" height="5.10" fill="#c8102e"/>
<rect x="384.50" y="276.27" width="5.50" height="5.10" fill="#13508e"/>
<line x1="380.80" y1="276.27" x2="384.50" y2="276.27" stroke="#111" stroke-width="0.8" />
<text x="378.20" y="278.67" font-size="6.9" text-anchor="end" fill="#333" stroke="#333" stroke-width="0.06" >YSac</text>
<text x="395.30" y="275.07" font-size="4.5" text-anchor="start" fill="#444" stroke="#444" stroke-width="0.06" >2.86%</text>
<text x="392.60" y="280.57" font-size="4.5" text-anchor="start" fill="#444" stroke="#444" stroke-width="0.06" >1.98%</text>
<rect x="384.50" y="284.60" width="9.50" height="5.10" fill="#c8102e"/>
<rect x="384.50" y="289.70" width="7.40" height="5.10" fill="#13508e"/>
<line x1="380.80" y1="289.70" x2="384.50" y2="289.70" stroke="#111" stroke-width="0.8" />
<text x="378.20" y="292.10" font-size="6.9" text-anchor="end" fill="#333" stroke="#333" stroke-width="0.06" >MK</text>
<text x="396.60" y="288.50" font-size="4.5" text-anchor="start" fill="#444" stroke="#444" stroke-width="0.06" >3.30%</text>
<text x="394.50" y="294.00" font-size="4.5" text-anchor="start" fill="#444" stroke="#444" stroke-width="0.06" >2.62%</text>
<rect x="384.50" y="298.02" width="23.80" height="5.10" fill="#c8102e"/>
<rect x="384.50" y="303.12" width="17.70" height="5.10" fill="#13508e"/>
<line x1="380.80" y1="303.12" x2="384.50" y2="303.12" stroke="#111" stroke-width="0.8" />
<text x="378.20" y="305.52" font-size="6.9" text-anchor="end" fill="#333" stroke="#333" stroke-width="0.06" >Dec</text>
<text x="410.90" y="301.93" font-size="4.5" text-anchor="start" fill="#444" stroke="#444" stroke-width="0.06" >8.19%</text>
<text x="404.80" y="307.43" font-size="4.5" text-anchor="start" fill="#444" stroke="#444" stroke-width="0.06" >6.08%</text>
<rect x="384.50" y="311.45" width="54.00" height="5.10" fill="#c8102e"/>
<rect x="384.50" y="316.55" width="64.70" height="5.10" fill="#13508e"/>
<line x1="380.80" y1="316.55" x2="384.50" y2="316.55" stroke="#111" stroke-width="0.8" />
<text x="378.20" y="318.95" font-size="6.9" text-anchor="end" fill="#333" stroke="#333" stroke-width="0.06" >EryP</text>
<text x="441.10" y="315.35" font-size="4.5" text-anchor="start" fill="#444" stroke="#444" stroke-width="0.06" >18.47%</text>
<text x="451.80" y="320.85" font-size="4.5" text-anchor="start" fill="#444" stroke="#444" stroke-width="0.06" >22.00%</text>
<rect x="384.50" y="324.88" width="73.30" height="5.10" fill="#c8102e"/>
<rect x="384.50" y="329.98" width="89.80" height="5.10" fill="#13508e"/>
<line x1="380.80" y1="329.98" x2="384.50" y2="329.98" stroke="#111" stroke-width="0.8" />
<text x="378.20" y="332.38" font-size="6.9" text-anchor="end" fill="#333" stroke="#333" stroke-width="0.06" >EryD</text>
<text x="460.40" y="328.78" font-size="4.5" text-anchor="start" fill="#444" stroke="#444" stroke-width="0.06" >25.05%</text>
<text x="476.90" y="334.28" font-size="4.5" text-anchor="start" fill="#444" stroke="#444" stroke-width="0.06" >30.60%</text>
<rect x="384.50" y="338.30" width="110.70" height="5.10" fill="#c8102e"/>
<rect x="384.50" y="343.40" width="91.30" height="5.10" fill="#13508e"/>
<line x1="380.80" y1="343.40" x2="384.50" y2="343.40" stroke="#111" stroke-width="0.8" />
<text x="378.20" y="345.80" font-size="6.9" text-anchor="end" fill="#333" stroke="#333" stroke-width="0.06" >TB</text>
<text x="497.80" y="342.20" font-size="4.5" text-anchor="start" fill="#444" stroke="#444" stroke-width="0.06" >37.80%</text>
<text x="478.40" y="347.70" font-size="4.5" text-anchor="start" fill="#444" stroke="#444" stroke-width="0.06" >31.25%</text>
<line x1="384.50" y1="227.80" x2="384.50" y2="351.50" stroke="#111" stroke-width="0.9" />
<line x1="384.10" y1="351.50" x2="501.20" y2="351.50" stroke="#111" stroke-width="0.9" />
<line x1="384.50" y1="351.50" x2="384.50" y2="354.30" stroke="#111" stroke-width="0.8" />
<text x="384.50" y="363.00" font-size="6.9" text-anchor="middle" fill="#333" stroke="#333" stroke-width="0.06" >0</text>
<line x1="413.85" y1="351.50" x2="413.85" y2="354.30" stroke="#111" stroke-width="0.8" />
<text x="413.85" y="363.00" font-size="6.9" text-anchor="middle" fill="#333" stroke="#333" stroke-width="0.06" >10</text>
<line x1="443.20" y1="351.50" x2="443.20" y2="354.30" stroke="#111" stroke-width="0.8" />
<text x="443.20" y="363.00" font-size="6.9" text-anchor="middle" fill="#333" stroke="#333" stroke-width="0.06" >20</text>
<line x1="472.55" y1="351.50" x2="472.55" y2="354.30" stroke="#111" stroke-width="0.8" />
<text x="472.55" y="363.00" font-size="6.9" text-anchor="middle" fill="#333" stroke="#333" stroke-width="0.06" >30</text>
<text x="442.50" y="376.00" font-size="8.2" text-anchor="middle" fill="#222" font-weight="bold" stroke="#222" stroke-width="0.1" textLength="52.5" lengthAdjust="spacingAndGlyphs">Cell proportion (%)</text>
<text x="356.20" y="290.00" font-size="7.8" text-anchor="middle" fill="#222" font-weight="bold" stroke="#222" stroke-width="0.1" textLength="24" lengthAdjust="spacingAndGlyphs" transform="rotate(-90 356.20 290.00)">Cell type</text>
<rect x="483.80" y="238.10" width="6.80" height="2.90" fill="#c8102e"/>
<rect x="483.80" y="246.40" width="6.80" height="2.90" fill="#13508e"/>
<text x="493.20" y="241.20" font-size="4.6" text-anchor="start" fill="#555" stroke="#555" stroke-width="0.06" >CT</text>
<text x="493.20" y="249.40" font-size="4.6" text-anchor="start" fill="#555" stroke="#555" stroke-width="0.06" >MO</text>
<text x="19.90" y="404.90" font-size="12" text-anchor="start" fill="#111" font-weight="bold" stroke="#111" stroke-width="0.5" >E</text>
<text x="129.00" y="401.10" font-size="6.4" text-anchor="middle" fill="#222" stroke="#222" stroke-width="0.06" >Placenta_maternal portion</text>
<text x="130.20" y="408.90" font-size="6.6" text-anchor="middle" fill="#222" stroke="#222" stroke-width="0.06" >GO enrichment of upregulated genes in MO</text>
<rect x="166.80" y="421.60" width="48.60" height="1.13" fill="#fb90d2"/>
<rect x="166.80" y="428.93" width="48.60" height="1.13" fill="#fb90d2"/>
<rect x="166.80" y="436.26" width="48.40" height="1.13" fill="#fb90d2"/>
<rect x="166.80" y="443.59" width="48.40" height="1.13" fill="#fb90d2"/>
<rect x="166.80" y="450.92" width="48.40" height="1.13" fill="#fb90d2"/>
<rect x="166.80" y="458.25" width="51.90" height="1.13" fill="#fb90d2"/>
<rect x="166.80" y="465.58" width="51.90" height="1.13" fill="#fb90d2"/>
<rect x="166.80" y="472.91" width="51.90" height="1.13" fill="#fb90d2"/>
<rect x="166.80" y="480.24" width="51.90" height="1.13" fill="#fb90d2"/>
<rect x="166.80" y="487.57" width="53.80" height="1.13" fill="#fb90d2"/>
<rect x="166.80" y="494.90" width="61.50" height="1.13" fill="#fb90d2"/>
<rect x="166.80" y="415.40" width="48.60" height="6.20" fill="#e6127f" stroke="#bf0e6a" stroke-width="0.35"/>
<line x1="163.50" y1="418.50" x2="166.80" y2="418.50" stroke="#111" stroke-width="0.8" />
<text x="160.30" y="420.75" font-size="6.4" text-anchor="end" fill="#dc3f8e" stroke="#dc3f8e" stroke-width="0.06" >cell activation involved in immune response</text>
<rect x="166.80" y="422.73" width="48.60" height="6.20" fill="#e6127f" stroke="#bf0e6a" stroke-width="0.35"/>
<line x1="163.50" y1="425.83" x2="166.80" y2="425.83" stroke="#111" stroke-width="0.8" />
<text x="160.30" y="428.08" font-size="6.4" text-anchor="end" fill="#dc3f8e" stroke="#dc3f8e" stroke-width="0.06" >leukocyte activation involved in immune response</text>
<rect x="166.80" y="430.06" width="48.60" height="6.20" fill="#e6127f" stroke="#bf0e6a" stroke-width="0.35"/>
<line x1="163.50" y1="433.16" x2="166.80" y2="433.16" stroke="#111" stroke-width="0.8" />
<text x="160.30" y="435.41" font-size="6.4" text-anchor="end" fill="#222" stroke="#222" stroke-width="0.06" >cell chemotaxis</text>
<rect x="166.80" y="437.39" width="48.40" height="6.20" fill="#e6127f" stroke="#bf0e6a" stroke-width="0.35"/>
<line x1="163.50" y1="440.49" x2="166.80" y2="440.49" stroke="#111" stroke-width="0.8" />
<text x="160.30" y="442.74" font-size="6.4" text-anchor="end" fill="#222" stroke="#222" stroke-width="0.06" >regulation of B cell activation</text>
<rect x="166.80" y="444.72" width="48.40" height="6.20" fill="#e6127f" stroke="#bf0e6a" stroke-width="0.35"/>
<line x1="163.50" y1="447.82" x2="166.80" y2="447.82" stroke="#111" stroke-width="0.8" />
<text x="160.30" y="450.07" font-size="6.4" text-anchor="end" fill="#222" stroke="#222" stroke-width="0.06" >B cell activation</text>
<rect x="166.80" y="452.05" width="51.90" height="6.20" fill="#e6127f" stroke="#bf0e6a" stroke-width="0.35"/>
<line x1="163.50" y1="455.15" x2="166.80" y2="455.15" stroke="#111" stroke-width="0.8" />
<text x="160.30" y="457.40" font-size="6.4" text-anchor="end" fill="#dc3f8e" stroke="#dc3f8e" stroke-width="0.06" >immune response-regulating signaling pathway</text>
<rect x="166.80" y="459.38" width="51.90" height="6.20" fill="#e6127f" stroke="#bf0e6a" stroke-width="0.35"/>
<line x1="163.50" y1="462.48" x2="166.80" y2="462.48" stroke="#111" stroke-width="0.8" />
<text x="160.30" y="464.73" font-size="6.4" text-anchor="end" fill="#dc3f8e" stroke="#dc3f8e" stroke-width="0.06" >immune response-activating signaling pathway</text>
<rect x="166.80" y="466.71" width="51.90" height="6.20" fill="#e6127f" stroke="#bf0e6a" stroke-width="0.35"/>
<line x1="163.50" y1="469.81" x2="166.80" y2="469.81" stroke="#111" stroke-width="0.8" />
<text x="160.30" y="472.06" font-size="6.4" text-anchor="end" fill="#222" stroke="#222" stroke-width="0.06" >taxis</text>
<rect x="166.80" y="474.04" width="51.90" height="6.20" fill="#e6127f" stroke="#bf0e6a" stroke-width="0.35"/>
<line x1="163.50" y1="477.14" x2="166.80" y2="477.14" stroke="#111" stroke-width="0.8" />
<text x="160.30" y="479.39" font-size="6.4" text-anchor="end" fill="#222" stroke="#222" stroke-width="0.06" >chemotaxis</text>
<rect x="166.80" y="481.37" width="53.80" height="6.20" fill="#e6127f" stroke="#bf0e6a" stroke-width="0.35"/>
<line x1="163.50" y1="484.47" x2="166.80" y2="484.47" stroke="#111" stroke-width="0.8" />
<text x="160.30" y="486.72" font-size="6.4" text-anchor="end" fill="#dc3f8e" stroke="#dc3f8e" stroke-width="0.06" >Innate immune resp. activ. cell surf. rec. sig. path.</text>
<rect x="166.80" y="488.70" width="61.50" height="6.20" fill="#e6127f" stroke="#bf0e6a" stroke-width="0.35"/>
<line x1="163.50" y1="491.80" x2="166.80" y2="491.80" stroke="#111" stroke-width="0.8" />
<text x="160.30" y="494.05" font-size="6.4" text-anchor="end" fill="#dc3f8e" stroke="#dc3f8e" stroke-width="0.06" >Immune resp. regul. cell surf. rec. sig. path.</text>
<rect x="166.80" y="496.03" width="61.50" height="6.20" fill="#e6127f" stroke="#bf0e6a" stroke-width="0.35"/>
<line x1="163.50" y1="499.13" x2="166.80" y2="499.13" stroke="#111" stroke-width="0.8" />
<text x="160.30" y="501.38" font-size="6.4" text-anchor="end" fill="#dc3f8e" stroke="#dc3f8e" stroke-width="0.06" >Immune resp. activ. cell surf. rec. sig. path.</text>
<line x1="166.80" y1="412.80" x2="166.80" y2="505.00" stroke="#111" stroke-width="0.9" />
<line x1="166.40" y1="505.00" x2="230.50" y2="505.00" stroke="#111" stroke-width="0.9" />
<line x1="166.80" y1="505.00" x2="166.80" y2="507.80" stroke="#111" stroke-width="0.8" />
<text x="166.80" y="515.80" font-size="6.6" text-anchor="middle" fill="#333" stroke="#333" stroke-width="0.06" >0</text>
<line x1="181.98" y1="505.00" x2="181.98" y2="507.80" stroke="#111" stroke-width="0.8" />
<text x="181.98" y="515.80" font-size="6.6" text-anchor="middle" fill="#333" stroke="#333" stroke-width="0.06" >1</text>
<line x1="197.16" y1="505.00" x2="197.16" y2="507.80" stroke="#111" stroke-width="0.8" />
<text x="197.16" y="515.80" font-size="6.6" text-anchor="middle" fill="#333" stroke="#333" stroke-width="0.06" >2</text>
<line x1="212.34" y1="505.00" x2="212.34" y2="507.80" stroke="#111" stroke-width="0.8" />
<text x="212.34" y="515.80" font-size="6.6" text-anchor="middle" fill="#333" stroke="#333" stroke-width="0.06" >3</text>
<line x1="227.52" y1="505.00" x2="227.52" y2="507.80" stroke="#111" stroke-width="0.8" />
<text x="227.52" y="515.80" font-size="6.6" text-anchor="middle" fill="#333" stroke="#333" stroke-width="0.06" >4</text>
<text x="198.60" y="528.40" font-size="7.9" text-anchor="middle" fill="#1a1a1a" stroke="#1a1a1a" stroke-width="0.25" textLength="68.0" lengthAdjust="spacingAndGlyphs">–log10(adjusted <tspan font-style="italic">P</tspan>-value)</text>
<text x="248.60" y="405.40" font-size="12" text-anchor="start" fill="#111" font-weight="bold" stroke="#111" stroke-width="0.5" >F</text>
<text x="338.70" y="400.60" font-size="6.4" text-anchor="middle" fill="#222" stroke="#222" stroke-width="0.06" >Placenta_fetus portion</text>
<text x="339.80" y="408.90" font-size="6.6" text-anchor="middle" fill="#222" stroke="#222" stroke-width="0.06" >GO enrichment of upregulated genes in MO</text>
<rect x="363.30" y="422.30" width="42.40" height="1.40" fill="#fb90d2"/>
<rect x="363.30" y="431.50" width="42.40" height="1.40" fill="#fb90d2"/>
<rect x="363.30" y="440.70" width="48.10" height="1.40" fill="#fb90d2"/>
<rect x="363.30" y="449.90" width="50.70" height="1.40" fill="#fb90d2"/>
<rect x="363.30" y="459.10" width="50.70" height="1.40" fill="#fb90d2"/>
<rect x="363.30" y="468.30" width="50.70" height="1.40" fill="#fb90d2"/>
<rect x="363.30" y="477.50" width="50.50" height="1.40" fill="#fb90d2"/>
<rect x="363.30" y="486.70" width="50.50" height="1.40" fill="#fb90d2"/>
<rect x="363.30" y="495.90" width="55.60" height="1.40" fill="#fb90d2"/>
<rect x="363.30" y="414.50" width="42.40" height="7.80" fill="#e6127f" stroke="#bf0e6a" stroke-width="0.35"/>
<line x1="360.00" y1="418.40" x2="363.30" y2="418.40" stroke="#111" stroke-width="0.8" />
<text x="356.90" y="420.65" font-size="6.4" text-anchor="end" fill="#222" stroke="#222" stroke-width="0.06" >lactation</text>
<rect x="363.30" y="423.70" width="42.40" height="7.80" fill="#e6127f" stroke="#bf0e6a" stroke-width="0.35"/>
<line x1="360.00" y1="427.60" x2="363.30" y2="427.60" stroke="#111" stroke-width="0.8" />
<text x="356.90" y="429.85" font-size="6.4" text-anchor="end" fill="#dc3f8e" stroke="#dc3f8e" stroke-width="0.06" >hydrogen peroxide metabolic process</text>
<rect x="363.30" y="432.90" width="48.10" height="7.80" fill="#e6127f" stroke="#bf0e6a" stroke-width="0.35"/>
<line x1="360.00" y1="436.80" x2="363.30" y2="436.80" stroke="#111" stroke-width="0.8" />
<text x="356.90" y="439.05" font-size="6.4" text-anchor="end" fill="#222" stroke="#222" stroke-width="0.06" >myeloid cell homeostasis</text>
<rect x="363.30" y="442.10" width="50.70" height="7.80" fill="#e6127f" stroke="#bf0e6a" stroke-width="0.35"/>
<line x1="360.00" y1="446.00" x2="363.30" y2="446.00" stroke="#111" stroke-width="0.8" />
<text x="356.90" y="448.25" font-size="6.4" text-anchor="end" fill="#dc3f8e" stroke="#dc3f8e" stroke-width="0.06" >hydrogen peroxide catabolic process</text>
<rect x="363.30" y="451.30" width="50.70" height="7.80" fill="#e6127f" stroke="#bf0e6a" stroke-width="0.35"/>
<line x1="360.00" y1="455.20" x2="363.30" y2="455.20" stroke="#111" stroke-width="0.8" />
<text x="356.90" y="457.45" font-size="6.4" text-anchor="end" fill="#222" stroke="#222" stroke-width="0.06" >regulation of lactation</text>
<rect x="363.30" y="460.50" width="50.70" height="7.80" fill="#e6127f" stroke="#bf0e6a" stroke-width="0.35"/>
<line x1="360.00" y1="464.40" x2="363.30" y2="464.40" stroke="#111" stroke-width="0.8" />
<text x="356.90" y="466.65" font-size="6.4" text-anchor="end" fill="#222" stroke="#222" stroke-width="0.06" >positive regulation of lactation</text>
<rect x="363.30" y="469.70" width="50.70" height="7.80" fill="#e6127f" stroke="#bf0e6a" stroke-width="0.35"/>
<line x1="360.00" y1="473.60" x2="363.30" y2="473.60" stroke="#111" stroke-width="0.8" />
<text x="356.90" y="475.85" font-size="6.4" text-anchor="end" fill="#dc3f8e" stroke="#dc3f8e" stroke-width="0.06" >erythrocyte homeostasis</text>
<rect x="363.30" y="478.90" width="50.50" height="7.80" fill="#e6127f" stroke="#bf0e6a" stroke-width="0.35"/>
<line x1="360.00" y1="482.80" x2="363.30" y2="482.80" stroke="#111" stroke-width="0.8" />
<text x="356.90" y="485.05" font-size="6.4" text-anchor="end" fill="#dc3f8e" stroke="#dc3f8e" stroke-width="0.06" >erythrocyte differentiation</text>
<rect x="363.30" y="488.10" width="55.60" height="7.80" fill="#e6127f" stroke="#bf0e6a" stroke-width="0.35"/>
<line x1="360.00" y1="492.00" x2="363.30" y2="492.00" stroke="#111" stroke-width="0.8" />
<text x="356.90" y="494.25" font-size="6.4" text-anchor="end" fill="#222" stroke="#222" stroke-width="0.06" >myeloid cell development</text>
<rect x="363.30" y="497.30" width="65.40" height="7.80" fill="#e6127f" stroke="#bf0e6a" stroke-width="0.35"/>
<line x1="360.00" y1="501.20" x2="363.30" y2="501.20" stroke="#111" stroke-width="0.8" />
<text x="356.90" y="503.45" font-size="6.4" text-anchor="end" fill="#dc3f8e" stroke="#dc3f8e" stroke-width="0.06" >erythrocyte development</text>
<line x1="363.30" y1="412.80" x2="363.30" y2="505.90" stroke="#111" stroke-width="0.9" />
<line x1="362.90" y1="505.90" x2="429.80" y2="505.90" stroke="#111" stroke-width="0.9" />
<line x1="363.30" y1="505.90" x2="363.30" y2="508.70" stroke="#111" stroke-width="0.8" />
<text x="363.30" y="516.70" font-size="6.6" text-anchor="middle" fill="#333" stroke="#333" stroke-width="0.06" >0</text>
<line x1="381.83" y1="505.90" x2="381.83" y2="508.70" stroke="#111" stroke-width="0.8" />
<text x="381.83" y="516.70" font-size="6.6" text-anchor="middle" fill="#333" stroke="#333" stroke-width="0.06" >1</text>
<line x1="400.36" y1="505.90" x2="400.36" y2="508.70" stroke="#111" stroke-width="0.8" />
<text x="400.36" y="516.70" font-size="6.6" text-anchor="middle" fill="#333" stroke="#333" stroke-width="0.06" >2</text>
<line x1="418.89" y1="505.90" x2="418.89" y2="508.70" stroke="#111" stroke-width="0.8" />
<text x="418.89" y="516.70" font-size="6.6" text-anchor="middle" fill="#333" stroke="#333" stroke-width="0.06" >3</text>
<text x="395.20" y="530.50" font-size="7.9" text-anchor="middle" fill="#1a1a1a" stroke="#1a1a1a" stroke-width="0.25" textLength="68.6" lengthAdjust="spacingAndGlyphs">–log10(adjusted <tspan font-style="italic">P</tspan>-value)</text>
<text x="19.70" y="561.30" font-size="12" text-anchor="start" fill="#111" font-weight="bold" stroke="#111" stroke-width="0.5" >G</text>
<text x="84.20" y="561.60" font-size="8.7" text-anchor="start" fill="#222" stroke="#222" stroke-width="0.06" >E13.5 placenta</text>
<line x1="43.50" y1="581.26" x2="43.50" y2="676.40" stroke="#111" stroke-width="0.9" />
<line x1="43.10" y1="676.40" x2="183.30" y2="676.40" stroke="#111" stroke-width="0.9" />
<line x1="40.50" y1="676.40" x2="43.50" y2="676.40" stroke="#111" stroke-width="0.8" />
<text x="35.60" y="678.70" font-size="6.6" text-anchor="middle" fill="#333" stroke="#333" stroke-width="0.06" >0</text>
<line x1="40.50" y1="645.00" x2="43.50" y2="645.00" stroke="#111" stroke-width="0.8" />
<text x="35.60" y="647.30" font-size="6.6" text-anchor="middle" fill="#333" stroke="#333" stroke-width="0.06" >1</text>
<line x1="40.50" y1="613.60" x2="43.50" y2="613.60" stroke="#111" stroke-width="0.8" />
<text x="35.60" y="615.90" font-size="6.6" text-anchor="middle" fill="#333" stroke="#333" stroke-width="0.06" >2</text>
<line x1="40.50" y1="582.20" x2="43.50" y2="582.20" stroke="#111" stroke-width="0.8" />
<text x="35.60" y="584.50" font-size="6.6" text-anchor="middle" fill="#333" stroke="#333" stroke-width="0.06" >3</text>
<text x="26.90" y="629.30" font-size="7.0" text-anchor="middle" fill="#1a1a1a" stroke="#1a1a1a" stroke-width="0.25" textLength="75.5" lengthAdjust="spacingAndGlyphs" transform="rotate(-90 26.90 629.30)">Relative mRNA expression</text>
<rect x="45.10" y="645.00" width="4.80" height="31.40" fill="#c8102e"/>
<rect x="51.40" y="659.76" width="4.80" height="16.64" fill="#13508e"/>
<line x1="47.50" y1="645.00" x2="47.50" y2="643.12" stroke="#7a1020" stroke-width="0.6" />
<line x1="46.30" y1="643.12" x2="48.70" y2="643.12" stroke="#7a1020" stroke-width="0.6" />
<line x1="53.80" y1="659.76" x2="53.80" y2="657.87" stroke="#0a2a50" stroke-width="0.6" />
<line x1="52.60" y1="657.87" x2="55.00" y2="657.87" stroke="#0a2a50" stroke-width="0.6" />
<circle cx="47.50" cy="646.57" r="0.80" fill="#f4d8dc"/>
<circle cx="47.50" cy="649.71" r="0.80" fill="#f4d8dc"/>
<circle cx="47.50" cy="643.43" r="1.10" fill="none" stroke="#b4b4b4" stroke-width="0.55"/>
<circle cx="53.80" cy="660.70" r="0.80" fill="#e6eef8"/>
<circle cx="53.80" cy="665.41" r="0.80" fill="#e6eef8"/>
<circle cx="53.80" cy="656.93" r="1.10" fill="none" stroke="#b4b4b4" stroke-width="0.55"/>
<path d="M46.60,641.23 L46.60,613.60 L54.00,613.60 L54.00,653.79" fill="none" stroke="#6e6e6e" stroke-width="0.65"/>
<text x="50.30" y="612.70" font-size="5.6" text-anchor="middle" fill="#111" stroke="#111" stroke-width="0.15" >**</text>
<line x1="50.65" y1="676.40" x2="50.65" y2="679.00" stroke="#111" stroke-width="0.8" />
<text x="54.25" y="683.00" font-size="6.7" text-anchor="end" fill="#333" transform="rotate(-45 54.25 683.00)">Hba-x</text>
<rect x="60.85" y="645.00" width="4.80" height="31.40" fill="#c8102e"/>
<rect x="67.15" y="659.76" width="4.80" height="16.64" fill="#13508e"/>
<line x1="63.25" y1="645.00" x2="63.25" y2="643.12" stroke="#7a1020" stroke-width="0.6" />
<line x1="62.05" y1="643.12" x2="64.45" y2="643.12" stroke="#7a1020" stroke-width="0.6" />
<line x1="69.55" y1="659.76" x2="69.55" y2="657.87" stroke="#0a2a50" stroke-width="0.6" />
<line x1="68.35" y1="657.87" x2="70.75" y2="657.87" stroke="#0a2a50" stroke-width="0.6" />
<circle cx="63.25" cy="648.14" r="0.80" fill="#f4d8dc"/>
<circle cx="63.25" cy="651.28" r="0.80" fill="#f4d8dc"/>
<circle cx="63.25" cy="641.86" r="1.10" fill="none" stroke="#b4b4b4" stroke-width="0.55"/>
<circle cx="69.55" cy="662.27" r="0.80" fill="#e6eef8"/>
<circle cx="69.55" cy="666.98" r="0.80" fill="#e6eef8"/>
<circle cx="69.55" cy="656.93" r="1.10" fill="none" stroke="#b4b4b4" stroke-width="0.55"/>
<path d="M62.35,637.15 L62.35,623.02 L69.75,623.02 L69.75,653.79" fill="none" stroke="#6e6e6e" stroke-width="0.65"/>
<text x="66.05" y="622.12" font-size="5.6" text-anchor="middle" fill="#111" stroke="#111" stroke-width="0.15" >*</text>
<line x1="66.40" y1="676.40" x2="66.40" y2="679.00" stroke="#111" stroke-width="0.8" />
<text x="70.00" y="683.00" font-size="6.7" text-anchor="end" fill="#333" transform="rotate(-45 70.00 683.00)">Hbb-y</text>
<rect x="76.60" y="645.00" width="4.80" height="31.40" fill="#c8102e"/>
<rect x="82.90" y="658.50" width="4.80" height="17.90" fill="#13508e"/>
<line x1="79.00" y1="645.00" x2="79.00" y2="643.43" stroke="#7a1020" stroke-width="0.6" />
<line x1="77.80" y1="643.43" x2="80.20" y2="643.43" stroke="#7a1020" stroke-width="0.6" />
<line x1="85.30" y1="658.50" x2="85.30" y2="657.56" stroke="#0a2a50" stroke-width="0.6" />
<line x1="84.10" y1="657.56" x2="86.50" y2="657.56" stroke="#0a2a50" stroke-width="0.6" />
<circle cx="79.00" cy="648.14" r="0.80" fill="#f4d8dc"/>
<circle cx="79.00" cy="652.85" r="0.80" fill="#f4d8dc"/>
<circle cx="79.00" cy="642.49" r="1.10" fill="none" stroke="#b4b4b4" stroke-width="0.55"/>
<circle cx="85.30" cy="659.13" r="0.80" fill="#e6eef8"/>
<circle cx="85.30" cy="657.56" r="1.10" fill="none" stroke="#b4b4b4" stroke-width="0.55"/>
<path d="M78.10,635.58 L78.10,607.32 L85.50,607.32 L85.50,655.68" fill="none" stroke="#6e6e6e" stroke-width="0.65"/>
<text x="81.80" y="606.42" font-size="5.6" text-anchor="middle" fill="#111" stroke="#111" stroke-width="0.15" >**</text>
<line x1="82.15" y1="676.40" x2="82.15" y2="679.00" stroke="#111" stroke-width="0.8" />
<text x="85.75" y="683.00" font-size="6.7" text-anchor="end" fill="#333" transform="rotate(-45 85.75 683.00)">Hbb-bt</text>
<rect x="92.35" y="645.00" width="4.80" height="31.40" fill="#c8102e"/>
<rect x="98.65" y="656.30" width="4.80" height="20.10" fill="#13508e"/>
<line x1="94.75" y1="645.00" x2="94.75" y2="643.12" stroke="#7a1020" stroke-width="0.6" />
<line x1="93.55" y1="643.12" x2="95.95" y2="643.12" stroke="#7a1020" stroke-width="0.6" />
<line x1="101.05" y1="656.30" x2="101.05" y2="653.16" stroke="#0a2a50" stroke-width="0.6" />
<line x1="99.85" y1="653.16" x2="102.25" y2="653.16" stroke="#0a2a50" stroke-width="0.6" />
<circle cx="94.75" cy="646.57" r="0.80" fill="#f4d8dc"/>
<circle cx="94.75" cy="649.71" r="0.80" fill="#f4d8dc"/>
<circle cx="94.75" cy="643.43" r="1.10" fill="none" stroke="#b4b4b4" stroke-width="0.55"/>
<circle cx="101.05" cy="657.56" r="0.80" fill="#e6eef8"/>
<circle cx="101.05" cy="659.13" r="0.80" fill="#e6eef8"/>
<circle cx="101.05" cy="653.79" r="1.10" fill="none" stroke="#b4b4b4" stroke-width="0.55"/>
<path d="M93.85,640.60 L93.85,623.02 L101.25,623.02 L101.25,651.91" fill="none" stroke="#6e6e6e" stroke-width="0.65"/>
<text x="97.55" y="622.12" font-size="5.6" text-anchor="middle" fill="#111" stroke="#111" stroke-width="0.15" >*</text>
<line x1="97.90" y1="676.40" x2="97.90" y2="679.00" stroke="#111" stroke-width="0.8" />
<text x="101.50" y="683.00" font-size="6.7" text-anchor="end" fill="#333" transform="rotate(-45 101.50 683.00)">Hbb-bh1</text>
<rect x="108.10" y="645.00" width="4.80" height="31.40" fill="#c8102e"/>
<rect x="114.40" y="660.07" width="4.80" height="16.33" fill="#13508e"/>
<line x1="110.50" y1="645.00" x2="110.50" y2="643.12" stroke="#7a1020" stroke-width="0.6" />
<line x1="109.30" y1="643.12" x2="111.70" y2="643.12" stroke="#7a1020" stroke-width="0.6" />
<line x1="116.80" y1="660.07" x2="116.80" y2="656.30" stroke="#0a2a50" stroke-width="0.6" />
<line x1="115.60" y1="656.30" x2="118.00" y2="656.30" stroke="#0a2a50" stroke-width="0.6" />
<circle cx="110.50" cy="646.57" r="0.80" fill="#f4d8dc"/>
<circle cx="110.50" cy="650.65" r="0.80" fill="#f4d8dc"/>
<circle cx="110.50" cy="641.86" r="1.10" fill="none" stroke="#b4b4b4" stroke-width="0.55"/>
<circle cx="116.80" cy="663.84" r="0.80" fill="#e6eef8"/>
<circle cx="116.80" cy="670.12" r="0.80" fill="#e6eef8"/>
<circle cx="116.80" cy="656.93" r="1.10" fill="none" stroke="#b4b4b4" stroke-width="0.55"/>
<path d="M109.60,638.09 L109.60,617.37 L117.00,617.37 L117.00,651.28" fill="none" stroke="#6e6e6e" stroke-width="0.65"/>
<text x="113.30" y="616.47" font-size="5.6" text-anchor="middle" fill="#111" stroke="#111" stroke-width="0.15" >*</text>
<line x1="113.65" y1="676.40" x2="113.65" y2="679.00" stroke="#111" stroke-width="0.8" />
<text x="117.25" y="683.00" font-size="6.7" text-anchor="end" fill="#333" transform="rotate(-45 117.25 683.00)">Hbb-bs</text>
<rect x="123.85" y="644.37" width="4.80" height="32.03" fill="#c8102e"/>
<rect x="130.15" y="661.01" width="4.80" height="15.39" fill="#13508e"/>
<line x1="126.25" y1="644.37" x2="126.25" y2="642.80" stroke="#7a1020" stroke-width="0.6" />
<line x1="125.05" y1="642.80" x2="127.45" y2="642.80" stroke="#7a1020" stroke-width="0.6" />
<line x1="132.55" y1="661.01" x2="132.55" y2="657.25" stroke="#0a2a50" stroke-width="0.6" />
<line x1="131.35" y1="657.25" x2="133.75" y2="657.25" stroke="#0a2a50" stroke-width="0.6" />
<circle cx="126.25" cy="646.57" r="0.80" fill="#f4d8dc"/>
<circle cx="126.25" cy="648.77" r="0.80" fill="#f4d8dc"/>
<circle cx="126.25" cy="643.43" r="1.10" fill="none" stroke="#b4b4b4" stroke-width="0.55"/>
<circle cx="132.55" cy="662.27" r="0.80" fill="#e6eef8"/>
<circle cx="132.55" cy="666.98" r="0.80" fill="#e6eef8"/>
<circle cx="132.55" cy="658.19" r="1.10" fill="none" stroke="#b4b4b4" stroke-width="0.55"/>
<path d="M125.35,640.29 L125.35,623.02 L132.75,623.02 L132.75,651.91" fill="none" stroke="#6e6e6e" stroke-width="0.65"/>
<text x="129.05" y="622.12" font-size="5.6" text-anchor="middle" fill="#111" stroke="#111" stroke-width="0.15" >**</text>
<line x1="129.40" y1="676.40" x2="129.40" y2="679.00" stroke="#111" stroke-width="0.8" />
<text x="133.00" y="683.00" font-size="6.7" text-anchor="end" fill="#333" transform="rotate(-45 133.00 683.00)">Hba-a1/a2</text>
<rect x="139.60" y="645.63" width="4.80" height="30.77" fill="#c8102e"/>
<rect x="145.90" y="658.82" width="4.80" height="17.58" fill="#13508e"/>
<line x1="142.00" y1="645.63" x2="142.00" y2="643.74" stroke="#7a1020" stroke-width="0.6" />
<line x1="140.80" y1="643.74" x2="143.20" y2="643.74" stroke="#7a1020" stroke-width="0.6" />
<line x1="148.30" y1="658.82" x2="148.30" y2="656.30" stroke="#0a2a50" stroke-width="0.6" />
<line x1="147.10" y1="656.30" x2="149.50" y2="656.30" stroke="#0a2a50" stroke-width="0.6" />
<circle cx="142.00" cy="644.37" r="1.10" fill="none" stroke="#b4b4b4" stroke-width="0.55"/>
<circle cx="142.00" cy="648.14" r="0.80" fill="#f4d8dc"/>
<circle cx="142.00" cy="643.43" r="1.10" fill="none" stroke="#b4b4b4" stroke-width="0.55"/>
<circle cx="148.30" cy="659.13" r="0.80" fill="#e6eef8"/>
<circle cx="148.30" cy="662.27" r="0.80" fill="#e6eef8"/>
<circle cx="148.30" cy="655.99" r="1.10" fill="none" stroke="#b4b4b4" stroke-width="0.55"/>
<path d="M141.10,641.23 L141.10,617.68 L148.50,617.68 L148.50,652.85" fill="none" stroke="#6e6e6e" stroke-width="0.65"/>
<text x="144.80" y="616.78" font-size="5.6" text-anchor="middle" fill="#111" stroke="#111" stroke-width="0.15" >**</text>
<line x1="145.15" y1="676.40" x2="145.15" y2="679.00" stroke="#111" stroke-width="0.8" />
<text x="148.75" y="683.00" font-size="6.7" text-anchor="end" fill="#333" transform="rotate(-45 148.75 683.00)">Gpx4</text>
<rect x="155.35" y="645.00" width="4.80" height="31.40" fill="#c8102e"/>
<rect x="161.65" y="657.56" width="4.80" height="18.84" fill="#13508e"/>
<line x1="157.75" y1="645.00" x2="157.75" y2="643.12" stroke="#7a1020" stroke-width="0.6" />
<line x1="156.55" y1="643.12" x2="158.95" y2="643.12" stroke="#7a1020" stroke-width="0.6" />
<line x1="164.05" y1="657.56" x2="164.05" y2="655.68" stroke="#0a2a50" stroke-width="0.6" />
<line x1="162.85" y1="655.68" x2="165.25" y2="655.68" stroke="#0a2a50" stroke-width="0.6" />
<circle cx="157.75" cy="645.00" r="0.80" fill="#f4d8dc"/>
<circle cx="157.75" cy="649.71" r="0.80" fill="#f4d8dc"/>
<circle cx="157.75" cy="641.86" r="1.10" fill="none" stroke="#b4b4b4" stroke-width="0.55"/>
<circle cx="164.05" cy="659.13" r="0.80" fill="#e6eef8"/>
<circle cx="164.05" cy="656.93" r="1.10" fill="none" stroke="#b4b4b4" stroke-width="0.55"/>
<circle cx="164.05" cy="654.42" r="1.10" fill="none" stroke="#b4b4b4" stroke-width="0.55"/>
<path d="M156.85,638.09 L156.85,623.02 L164.25,623.02 L164.25,654.42" fill="none" stroke="#6e6e6e" stroke-width="0.65"/>
<text x="160.55" y="622.12" font-size="5.6" text-anchor="middle" fill="#111" stroke="#111" stroke-width="0.15" >*</text>
<line x1="160.90" y1="676.40" x2="160.90" y2="679.00" stroke="#111" stroke-width="0.8" />
<text x="164.50" y="683.00" font-size="6.7" text-anchor="end" fill="#333" transform="rotate(-45 164.50 683.00)">Hif1a</text>
<rect x="171.10" y="645.00" width="4.80" height="31.40" fill="#c8102e"/>
<rect x="177.40" y="664.78" width="4.80" height="11.62" fill="#13508e"/>
<line x1="173.50" y1="645.00" x2="173.50" y2="642.80" stroke="#7a1020" stroke-width="0.6" />
<line x1="172.30" y1="642.80" x2="174.70" y2="642.80" stroke="#7a1020" stroke-width="0.6" />
<line x1="179.80" y1="664.78" x2="179.80" y2="662.27" stroke="#0a2a50" stroke-width="0.6" />
<line x1="178.60" y1="662.27" x2="181.00" y2="662.27" stroke="#0a2a50" stroke-width="0.6" />
<circle cx="173.50" cy="646.57" r="0.80" fill="#f4d8dc"/>
<circle cx="173.50" cy="651.28" r="0.80" fill="#f4d8dc"/>
<circle cx="173.50" cy="640.29" r="1.10" fill="none" stroke="#b4b4b4" stroke-width="0.55"/>
<circle cx="179.80" cy="666.98" r="0.80" fill="#e6eef8"/>
<circle cx="179.80" cy="662.27" r="1.10" fill="none" stroke="#b4b4b4" stroke-width="0.55"/>
<path d="M172.60,634.95 L172.60,620.19 L180.00,620.19 L180.00,655.68" fill="none" stroke="#6e6e6e" stroke-width="0.65"/>
<text x="176.30" y="619.29" font-size="5.6" text-anchor="middle" fill="#111" stroke="#111" stroke-width="0.15" >*</text>
<line x1="176.65" y1="676.40" x2="176.65" y2="679.00" stroke="#111" stroke-width="0.8" />
<text x="180.25" y="683.00" font-size="6.7" text-anchor="end" fill="#333" transform="rotate(-45 180.25 683.00)">Tfrc</text>
<text x="200.20" y="561.40" font-size="12" text-anchor="start" fill="#111" font-weight="bold" stroke="#111" stroke-width="0.5" >H</text>
<text x="265.20" y="561.60" font-size="8.7" text-anchor="start" fill="#222" stroke="#222" stroke-width="0.06" >E13.5 yolk sac</text>
<line x1="223.30" y1="581.46" x2="223.30" y2="676.00" stroke="#111" stroke-width="0.9" />
<line x1="222.90" y1="676.00" x2="363.00" y2="676.00" stroke="#111" stroke-width="0.9" />
<line x1="220.30" y1="676.00" x2="223.30" y2="676.00" stroke="#111" stroke-width="0.8" />
<text x="215.20" y="678.30" font-size="6.6" text-anchor="middle" fill="#333" stroke="#333" stroke-width="0.06" >0</text>
<line x1="220.30" y1="644.80" x2="223.30" y2="644.80" stroke="#111" stroke-width="0.8" />
<text x="215.20" y="647.10" font-size="6.6" text-anchor="middle" fill="#333" stroke="#333" stroke-width="0.06" >1</text>
<line x1="220.30" y1="613.60" x2="223.30" y2="613.60" stroke="#111" stroke-width="0.8" />
<text x="215.20" y="615.90" font-size="6.6" text-anchor="middle" fill="#333" stroke="#333" stroke-width="0.06" >2</text>
<line x1="220.30" y1="582.40" x2="223.30" y2="582.40" stroke="#111" stroke-width="0.8" />
<text x="215.20" y="584.70" font-size="6.6" text-anchor="middle" fill="#333" stroke="#333" stroke-width="0.06" >3</text>
<text x="206.70" y="629.30" font-size="7.0" text-anchor="middle" fill="#1a1a1a" stroke="#1a1a1a" stroke-width="0.25" textLength="75.5" lengthAdjust="spacingAndGlyphs" transform="rotate(-90 206.70 629.30)">Relative mRNA expression</text>
<rect x="224.90" y="645.42" width="4.80" height="30.58" fill="#c8102e"/>
<rect x="231.30" y="624.52" width="4.80" height="51.48" fill="#13508e"/>
<line x1="227.30" y1="645.42" x2="227.30" y2="642.30" stroke="#7a1020" stroke-width="0.6" />
<line x1="226.10" y1="642.30" x2="228.50" y2="642.30" stroke="#7a1020" stroke-width="0.6" />
<line x1="233.70" y1="624.52" x2="233.70" y2="617.66" stroke="#0a2a50" stroke-width="0.6" />
<line x1="232.50" y1="617.66" x2="234.90" y2="617.66" stroke="#0a2a50" stroke-width="0.6" />
<circle cx="227.30" cy="647.92" r="0.80" fill="#f4d8dc"/>
<circle cx="227.30" cy="637.00" r="1.10" fill="none" stroke="#b4b4b4" stroke-width="0.55"/>
<circle cx="227.30" cy="651.04" r="0.80" fill="#f4d8dc"/>
<circle cx="233.70" cy="633.88" r="0.80" fill="#e6eef8"/>
<circle cx="233.70" cy="629.20" r="0.80" fill="#e6eef8"/>
<circle cx="233.70" cy="602.68" r="1.10" fill="none" stroke="#b4b4b4" stroke-width="0.55"/>
<path d="M226.40,635.44 L226.40,588.64 L233.90,588.64 L233.90,601.12" fill="none" stroke="#6e6e6e" stroke-width="0.65"/>
<text x="230.15" y="587.74" font-size="5.6" text-anchor="middle" fill="#111" stroke="#111" stroke-width="0.15" >*</text>
<line x1="230.50" y1="676.00" x2="230.50" y2="678.60" stroke="#111" stroke-width="0.8" />
<text x="234.10" y="682.60" font-size="6.7" text-anchor="end" fill="#333" transform="rotate(-45 234.10 682.60)">Hba-x</text>
<rect x="240.65" y="645.42" width="4.80" height="30.58" fill="#c8102e"/>
<rect x="247.05" y="623.90" width="4.80" height="52.10" fill="#13508e"/>
<line x1="243.05" y1="645.42" x2="243.05" y2="641.68" stroke="#7a1020" stroke-width="0.6" />
<line x1="241.85" y1="641.68" x2="244.25" y2="641.68" stroke="#7a1020" stroke-width="0.6" />
<line x1="249.45" y1="623.90" x2="249.45" y2="620.15" stroke="#0a2a50" stroke-width="0.6" />
<line x1="248.25" y1="620.15" x2="250.65" y2="620.15" stroke="#0a2a50" stroke-width="0.6" />
<circle cx="243.05" cy="647.92" r="0.80" fill="#f4d8dc"/>
<circle cx="243.05" cy="635.44" r="1.10" fill="none" stroke="#b4b4b4" stroke-width="0.55"/>
<circle cx="243.05" cy="652.60" r="0.80" fill="#f4d8dc"/>
<circle cx="249.45" cy="632.32" r="0.80" fill="#e6eef8"/>
<circle cx="249.45" cy="627.64" r="0.80" fill="#e6eef8"/>
<circle cx="249.45" cy="618.28" r="1.10" fill="none" stroke="#b4b4b4" stroke-width="0.55"/>
<path d="M242.15,633.88 L242.15,599.56 L249.65,599.56 L249.65,607.36" fill="none" stroke="#6e6e6e" stroke-width="0.65"/>
<text x="245.90" y="598.66" font-size="5.6" text-anchor="middle" fill="#111" stroke="#111" stroke-width="0.15" >**</text>
<line x1="246.25" y1="676.00" x2="246.25" y2="678.60" stroke="#111" stroke-width="0.8" />
<text x="249.85" y="682.60" font-size="6.7" text-anchor="end" fill="#333" transform="rotate(-45 249.85 682.60)">Hbb-y</text>
<rect x="256.40" y="644.80" width="4.80" height="31.20" fill="#c8102e"/>
<rect x="262.80" y="626.08" width="4.80" height="49.92" fill="#13508e"/>
<line x1="265.20" y1="626.08" x2="265.20" y2="624.21" stroke="#0a2a50" stroke-width="0.6" />
<line x1="264.00" y1="624.21" x2="266.40" y2="624.21" stroke="#0a2a50" stroke-width="0.6" />
<circle cx="258.80" cy="649.48" r="0.80" fill="#f4d8dc"/>
<circle cx="258.80" cy="633.88" r="1.10" fill="none" stroke="#b4b4b4" stroke-width="0.55"/>
<circle cx="258.80" cy="654.16" r="0.80" fill="#f4d8dc"/>
<circle cx="265.20" cy="633.88" r="0.80" fill="#e6eef8"/>
<circle cx="265.20" cy="630.76" r="0.80" fill="#e6eef8"/>
<circle cx="265.20" cy="622.34" r="1.10" fill="none" stroke="#b4b4b4" stroke-width="0.55"/>
<path d="M257.90,635.44 L257.90,610.48 L265.40,610.48 L265.40,618.28" fill="none" stroke="#6e6e6e" stroke-width="0.65"/>
<text x="261.65" y="609.58" font-size="5.6" text-anchor="middle" fill="#111" stroke="#111" stroke-width="0.15" >*</text>
<line x1="262.00" y1="676.00" x2="262.00" y2="678.60" stroke="#111" stroke-width="0.8" />
<text x="265.60" y="682.60" font-size="6.7" text-anchor="end" fill="#333" transform="rotate(-45 265.60 682.60)">Hbb-bt</text>
<rect x="272.15" y="644.80" width="4.80" height="31.20" fill="#c8102e"/>
<rect x="278.55" y="626.08" width="4.80" height="49.92" fill="#13508e"/>
<line x1="274.55" y1="644.80" x2="274.55" y2="639.18" stroke="#7a1020" stroke-width="0.6" />
<line x1="273.35" y1="639.18" x2="275.75" y2="639.18" stroke="#7a1020" stroke-width="0.6" />
<circle cx="274.55" cy="647.92" r="0.80" fill="#f4d8dc"/>
<circle cx="274.55" cy="627.64" r="1.10" fill="none" stroke="#b4b4b4" stroke-width="0.55"/>
<circle cx="274.55" cy="652.60" r="0.80" fill="#f4d8dc"/>
<circle cx="280.95" cy="635.44" r="0.80" fill="#e6eef8"/>
<circle cx="280.95" cy="627.64" r="0.80" fill="#e6eef8"/>
<circle cx="280.95" cy="622.34" r="1.10" fill="none" stroke="#b4b4b4" stroke-width="0.55"/>
<path d="M273.65,629.20 L273.65,608.92 L281.15,608.92 L281.15,621.40" fill="none" stroke="#6e6e6e" stroke-width="0.65"/>
<text x="277.40" y="608.02" font-size="5.6" text-anchor="middle" fill="#111" stroke="#111" stroke-width="0.15" >*</text>
<line x1="277.75" y1="676.00" x2="277.75" y2="678.60" stroke="#111" stroke-width="0.8" />
<text x="281.35" y="682.60" font-size="6.7" text-anchor="end" fill="#333" transform="rotate(-45 281.35 682.60)">Hbb-bh1</text>
<rect x="287.90" y="644.80" width="4.80" height="31.20" fill="#c8102e"/>
<rect x="294.30" y="608.30" width="4.80" height="67.70" fill="#13508e"/>
<line x1="290.30" y1="644.80" x2="290.30" y2="638.56" stroke="#7a1020" stroke-width="0.6" />
<line x1="289.10" y1="638.56" x2="291.50" y2="638.56" stroke="#7a1020" stroke-width="0.6" />
<line x1="296.70" y1="608.30" x2="296.70" y2="602.06" stroke="#0a2a50" stroke-width="0.6" />
<line x1="295.50" y1="602.06" x2="297.90" y2="602.06" stroke="#0a2a50" stroke-width="0.6" />
<circle cx="290.30" cy="649.48" r="0.80" fill="#f4d8dc"/>
<circle cx="290.30" cy="629.20" r="1.10" fill="none" stroke="#b4b4b4" stroke-width="0.55"/>
<circle cx="290.30" cy="654.16" r="0.80" fill="#f4d8dc"/>
<circle cx="296.70" cy="618.28" r="0.80" fill="#e6eef8"/>
<circle cx="296.70" cy="613.60" r="0.80" fill="#e6eef8"/>
<circle cx="296.70" cy="591.76" r="1.10" fill="none" stroke="#b4b4b4" stroke-width="0.55"/>
<path d="M289.40,632.32 L289.40,572.42 L296.90,572.42 L296.90,591.14" fill="none" stroke="#6e6e6e" stroke-width="0.65"/>
<text x="293.15" y="571.52" font-size="5.6" text-anchor="middle" fill="#111" stroke="#111" stroke-width="0.15" >**</text>
<line x1="293.50" y1="676.00" x2="293.50" y2="678.60" stroke="#111" stroke-width="0.8" />
<text x="297.10" y="682.60" font-size="6.7" text-anchor="end" fill="#333" transform="rotate(-45 297.10 682.60)">Hbb-bs</text>
<rect x="303.65" y="644.80" width="4.80" height="31.20" fill="#c8102e"/>
<rect x="310.05" y="622.02" width="4.80" height="53.98" fill="#13508e"/>
<line x1="312.45" y1="622.02" x2="312.45" y2="612.66" stroke="#0a2a50" stroke-width="0.6" />
<line x1="311.25" y1="612.66" x2="313.65" y2="612.66" stroke="#0a2a50" stroke-width="0.6" />
<circle cx="306.05" cy="644.80" r="0.80" fill="#f4d8dc"/>
<circle cx="306.05" cy="641.68" r="1.10" fill="none" stroke="#b4b4b4" stroke-width="0.55"/>
<circle cx="306.05" cy="649.48" r="0.80" fill="#f4d8dc"/>
<circle cx="312.45" cy="630.76" r="0.80" fill="#e6eef8"/>
<circle cx="312.45" cy="626.08" r="0.80" fill="#e6eef8"/>
<circle cx="312.45" cy="591.76" r="1.10" fill="none" stroke="#b4b4b4" stroke-width="0.55"/>
<path d="M305.15,637.00 L305.15,582.40 L312.65,582.40 L312.65,591.76" fill="none" stroke="#6e6e6e" stroke-width="0.65"/>
<text x="308.90" y="581.50" font-size="5.6" text-anchor="middle" fill="#111" stroke="#111" stroke-width="0.15" >*</text>
<line x1="309.25" y1="676.00" x2="309.25" y2="678.60" stroke="#111" stroke-width="0.8" />
<text x="312.85" y="682.60" font-size="6.7" text-anchor="end" fill="#333" transform="rotate(-45 312.85 682.60)">Hba-a1/a2</text>
<rect x="319.40" y="644.80" width="4.80" height="31.20" fill="#c8102e"/>
<rect x="325.80" y="638.25" width="4.80" height="37.75" fill="#13508e"/>
<line x1="321.80" y1="644.80" x2="321.80" y2="641.68" stroke="#7a1020" stroke-width="0.6" />
<line x1="320.60" y1="641.68" x2="323.00" y2="641.68" stroke="#7a1020" stroke-width="0.6" />
<circle cx="321.80" cy="644.80" r="0.80" fill="#f4d8dc"/>
<circle cx="321.80" cy="643.24" r="1.10" fill="none" stroke="#b4b4b4" stroke-width="0.55"/>
<circle cx="321.80" cy="646.36" r="0.80" fill="#f4d8dc"/>
<circle cx="328.20" cy="638.56" r="0.80" fill="#e6eef8"/>
<circle cx="328.20" cy="637.00" r="1.10" fill="none" stroke="#b4b4b4" stroke-width="0.55"/>
<path d="M320.90,641.06 L320.90,620.78 L328.40,620.78 L328.40,634.82" fill="none" stroke="#6e6e6e" stroke-width="0.65"/>
<text x="324.65" y="619.88" font-size="5.6" text-anchor="middle" fill="#111" stroke="#111" stroke-width="0.15" >**</text>
<line x1="325.00" y1="676.00" x2="325.00" y2="678.60" stroke="#111" stroke-width="0.8" />
<text x="328.60" y="682.60" font-size="6.7" text-anchor="end" fill="#333" transform="rotate(-45 328.60 682.60)">Gpx4</text>
<rect x="335.15" y="644.80" width="4.80" height="31.20" fill="#c8102e"/>
<rect x="341.55" y="632.63" width="4.80" height="43.37" fill="#13508e"/>
<line x1="343.95" y1="632.63" x2="343.95" y2="630.14" stroke="#0a2a50" stroke-width="0.6" />
<line x1="342.75" y1="630.14" x2="345.15" y2="630.14" stroke="#0a2a50" stroke-width="0.6" />
<circle cx="337.55" cy="647.92" r="0.80" fill="#f4d8dc"/>
<circle cx="337.55" cy="638.56" r="1.10" fill="none" stroke="#b4b4b4" stroke-width="0.55"/>
<circle cx="337.55" cy="649.48" r="0.80" fill="#f4d8dc"/>
<circle cx="343.95" cy="635.44" r="0.80" fill="#e6eef8"/>
<circle cx="343.95" cy="632.32" r="1.10" fill="none" stroke="#b4b4b4" stroke-width="0.55"/>
<circle cx="343.95" cy="629.20" r="1.10" fill="none" stroke="#b4b4b4" stroke-width="0.55"/>
<path d="M336.65,633.88 L336.65,611.73 L344.15,611.73 L344.15,629.20" fill="none" stroke="#6e6e6e" stroke-width="0.65"/>
<text x="340.40" y="610.83" font-size="5.6" text-anchor="middle" fill="#111" stroke="#111" stroke-width="0.15" >*</text>
<line x1="340.75" y1="676.00" x2="340.75" y2="678.60" stroke="#111" stroke-width="0.8" />
<text x="344.35" y="682.60" font-size="6.7" text-anchor="end" fill="#333" transform="rotate(-45 344.35 682.60)">Hif1a</text>
<rect x="350.90" y="644.80" width="4.80" height="31.20" fill="#c8102e"/>
<rect x="357.30" y="659.46" width="4.80" height="16.54" fill="#13508e"/>
<line x1="359.70" y1="659.46" x2="359.70" y2="657.59" stroke="#0a2a50" stroke-width="0.6" />
<line x1="358.50" y1="657.59" x2="360.90" y2="657.59" stroke="#0a2a50" stroke-width="0.6" />
<circle cx="353.30" cy="646.36" r="0.80" fill="#f4d8dc"/>
<circle cx="353.30" cy="641.68" r="1.10" fill="none" stroke="#b4b4b4" stroke-width="0.55"/>
<circle cx="353.30" cy="651.04" r="0.80" fill="#f4d8dc"/>
<circle cx="359.70" cy="660.40" r="0.80" fill="#e6eef8"/>
<circle cx="359.70" cy="657.28" r="1.10" fill="none" stroke="#b4b4b4" stroke-width="0.55"/>
<circle cx="359.70" cy="655.72" r="1.10" fill="none" stroke="#b4b4b4" stroke-width="0.55"/>
<path d="M352.40,638.56 L352.40,622.96 L359.90,622.96 L359.90,653.54" fill="none" stroke="#6e6e6e" stroke-width="0.65"/>
<text x="356.15" y="622.06" font-size="5.6" text-anchor="middle" fill="#111" stroke="#111" stroke-width="0.15" >*</text>
<line x1="356.50" y1="676.00" x2="356.50" y2="678.60" stroke="#111" stroke-width="0.8" />
<text x="360.10" y="682.60" font-size="6.7" text-anchor="end" fill="#333" transform="rotate(-45 360.10 682.60)">Tfrc</text>
<rect x="389.00" y="627.80" width="6.00" height="2.70" fill="#c8102e"/>
<rect x="389.00" y="636.40" width="6.00" height="2.70" fill="#13508e"/>
<text x="398.00" y="630.90" font-size="4.6" text-anchor="start" fill="#555" stroke="#555" stroke-width="0.06" >CT</text>
<text x="398.00" y="639.40" font-size="4.6" text-anchor="start" fill="#555" stroke="#555" stroke-width="0.06" >MO</text>
<rect x="0.00" y="0.00" width="520.00" height="1.00" fill="#5a5a5a"/>
<rect x="0.00" y="0.00" width="1.00" height="715.00" fill="#606060"/>
<rect x="518.80" y="0.00" width="1.20" height="715.00" fill="#404040"/>
<rect x="0.00" y="713.60" width="520.00" height="1.40" fill="#3a3a3a"/>
</svg></div></body></html>
